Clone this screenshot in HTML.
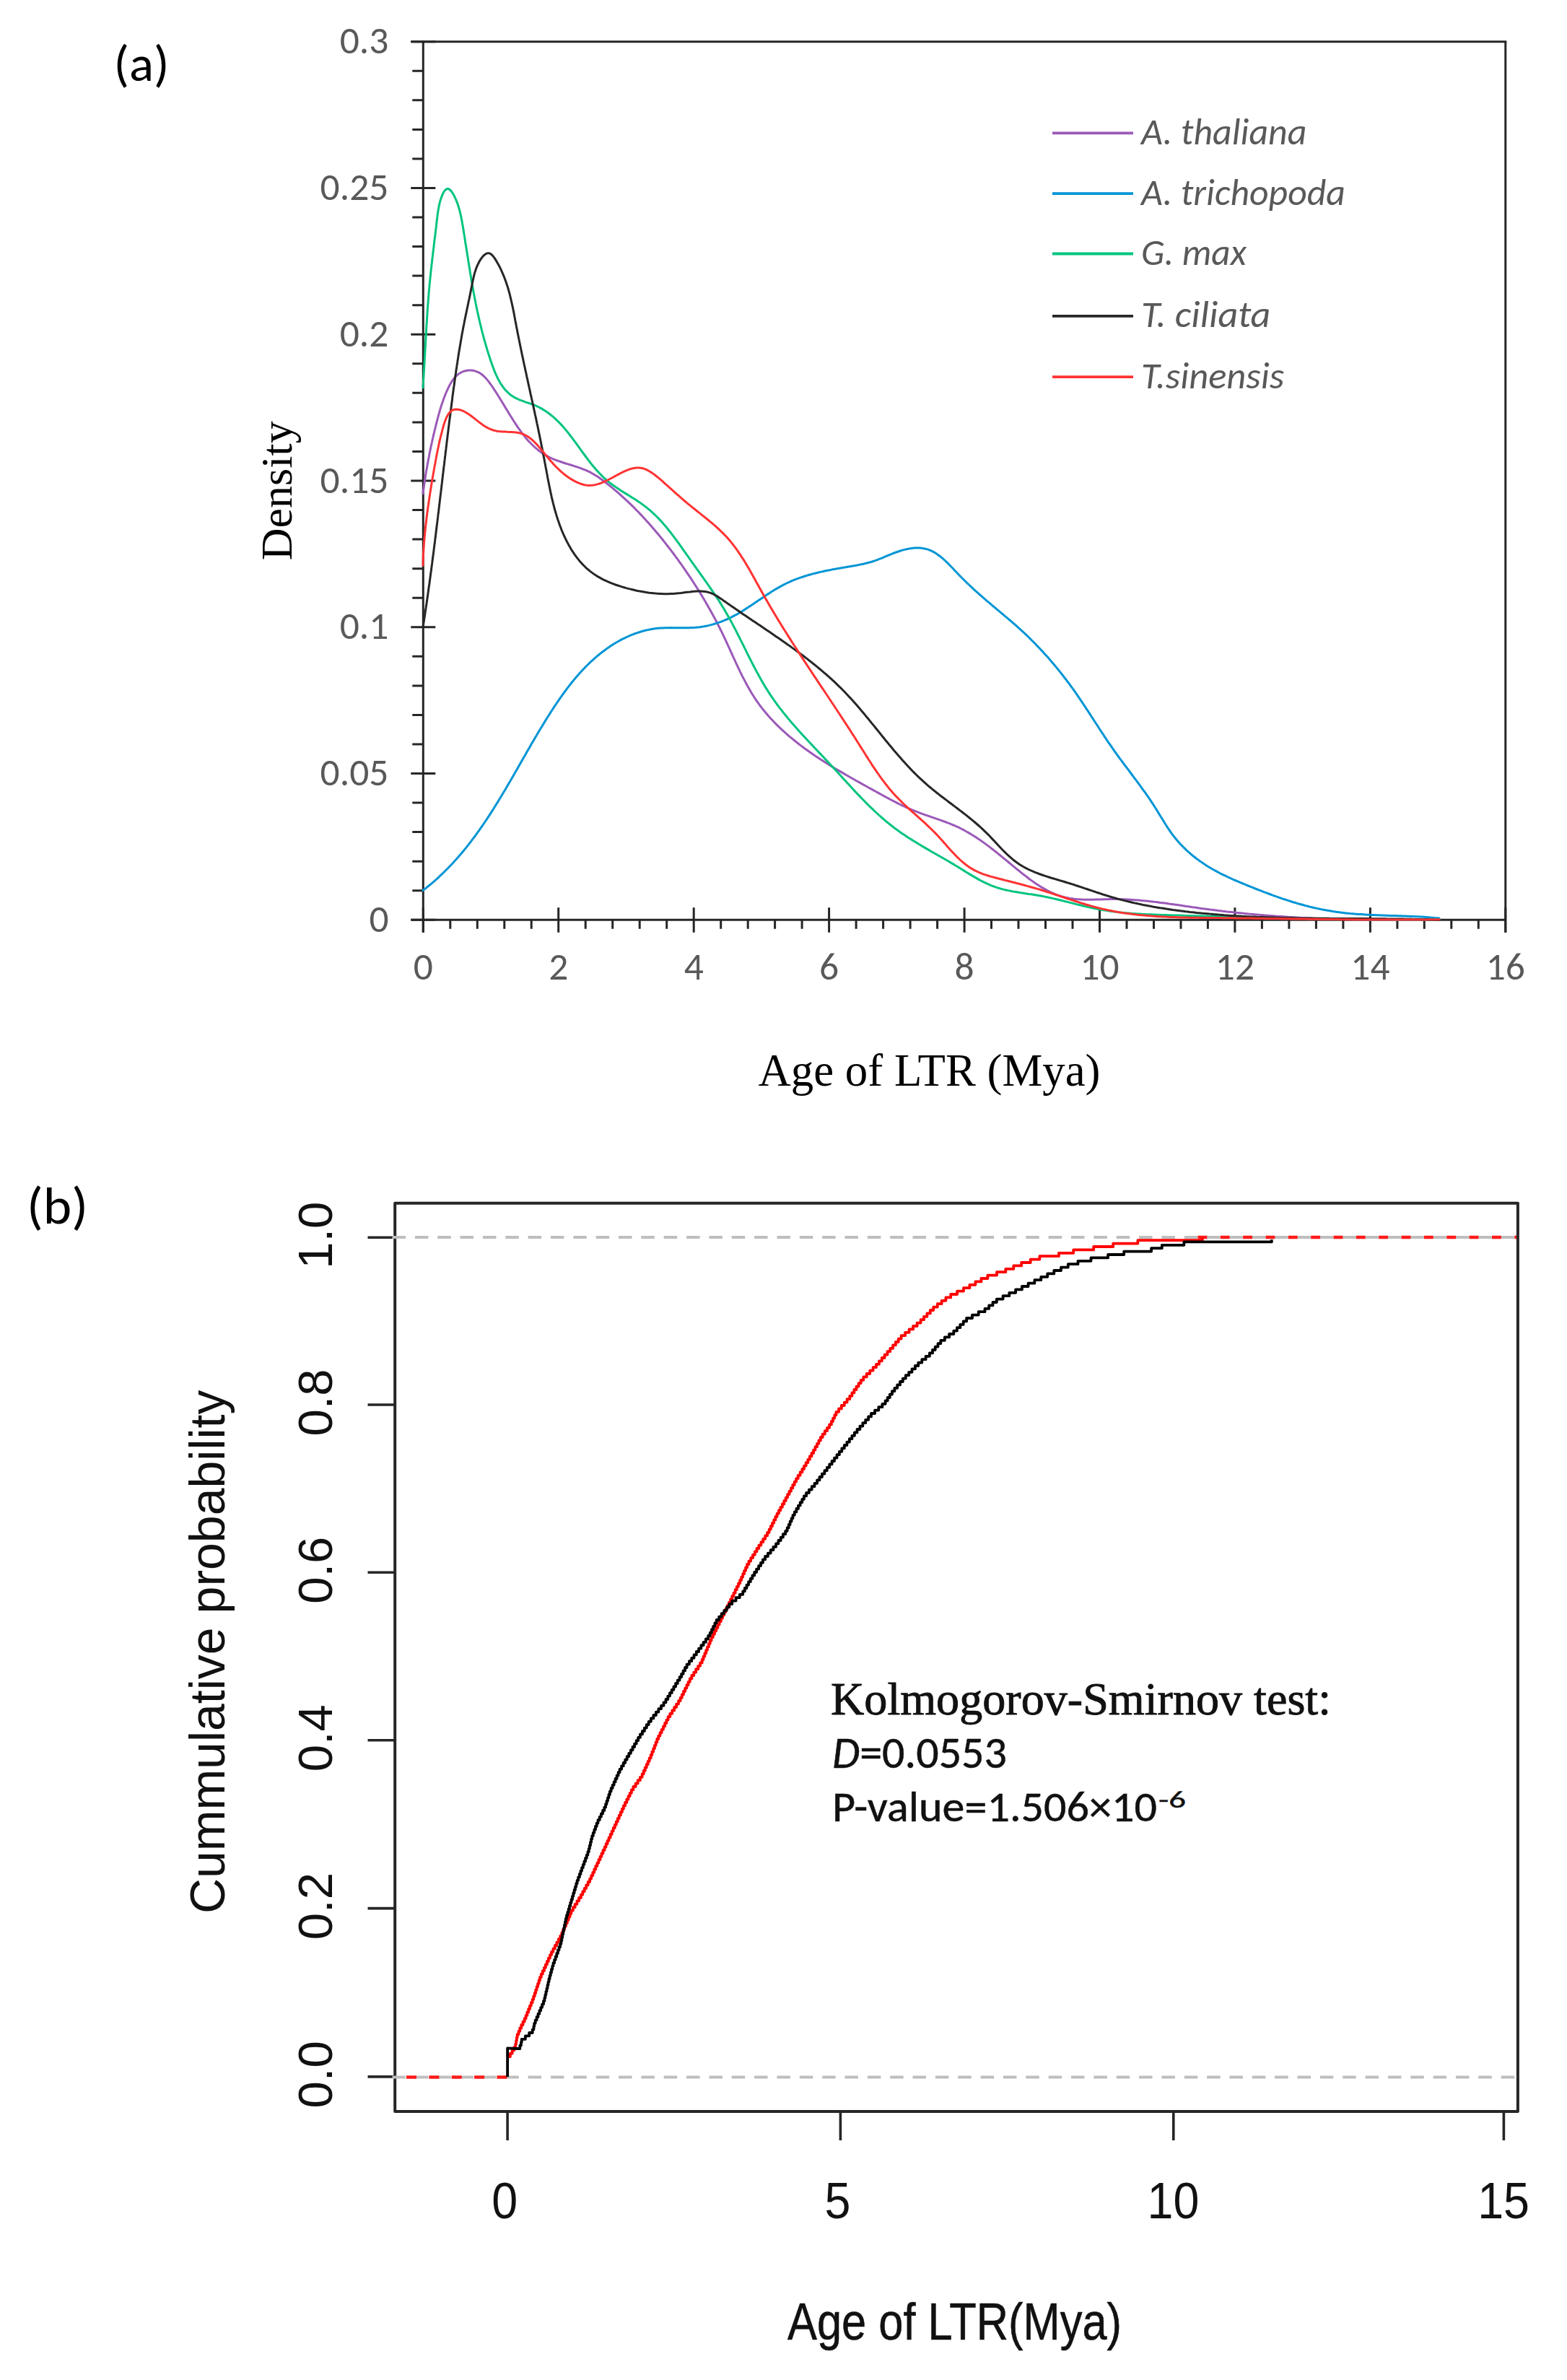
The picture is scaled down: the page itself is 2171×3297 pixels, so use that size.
<!DOCTYPE html>
<html><head><meta charset="utf-8"><title>LTR age</title><style>html,body{margin:0;padding:0;background:#fff;overflow:hidden}svg{display:block}</style></head><body>
<svg width="2171" height="3297" viewBox="0 0 2171 3297">
<rect width="2171" height="3297" fill="#fff"/>
<path d="M586.3 56.2V1291.8" stroke="#262626" stroke-width="3" fill="none"/>
<path d="M569.3 57.7H2087.3" stroke="#262626" stroke-width="3" fill="none"/>
<path d="M2085.8 57.7V1291.8" stroke="#262626" stroke-width="3" fill="none"/>
<path d="M569.3 1274.3H2085.8" stroke="#262626" stroke-width="3" fill="none"/>
<path d="M569.3 1274.3H603.3M571.3 1233.7H586.3M571.3 1193.2H586.3M571.3 1152.6H586.3M571.3 1112.1H586.3M569.3 1071.5H603.3M571.3 1031.0H586.3M571.3 990.4H586.3M571.3 949.9H586.3M571.3 909.3H586.3M569.3 868.8H603.3M571.3 828.2H586.3M571.3 787.7H586.3M571.3 747.1H586.3M571.3 706.6H586.3M569.3 666.0H603.3M571.3 625.4H586.3M571.3 584.9H586.3M571.3 544.3H586.3M571.3 503.8H586.3M569.3 463.2H603.3M571.3 422.7H586.3M571.3 382.1H586.3M571.3 341.6H586.3M571.3 301.0H586.3M569.3 260.5H603.3M571.3 219.9H586.3M571.3 179.4H586.3M571.3 138.8H586.3M571.3 98.3H586.3M569.3 57.7H603.3" stroke="#262626" stroke-width="3" fill="none"/>
<path d="M586.3 1257.3V1291.8M623.8 1274.3V1286.8M661.3 1274.3V1286.8M698.8 1274.3V1286.8M736.2 1274.3V1286.8M773.7 1257.3V1291.8M811.2 1274.3V1286.8M848.7 1274.3V1286.8M886.2 1274.3V1286.8M923.7 1274.3V1286.8M961.2 1257.3V1291.8M998.7 1274.3V1286.8M1036.2 1274.3V1286.8M1073.6 1274.3V1286.8M1111.1 1274.3V1286.8M1148.6 1257.3V1291.8M1186.1 1274.3V1286.8M1223.6 1274.3V1286.8M1261.1 1274.3V1286.8M1298.6 1274.3V1286.8M1336.1 1257.3V1291.8M1373.5 1274.3V1286.8M1411.0 1274.3V1286.8M1448.5 1274.3V1286.8M1486.0 1274.3V1286.8M1523.5 1257.3V1291.8M1561.0 1274.3V1286.8M1598.5 1274.3V1286.8M1636.0 1274.3V1286.8M1673.4 1274.3V1286.8M1710.9 1257.3V1291.8M1748.4 1274.3V1286.8M1785.9 1274.3V1286.8M1823.4 1274.3V1286.8M1860.9 1274.3V1286.8M1898.4 1257.3V1291.8M1935.9 1274.3V1286.8M1973.3 1274.3V1286.8M2010.8 1274.3V1286.8M2048.3 1274.3V1286.8M2085.8 1257.3V1291.8" stroke="#262626" stroke-width="3" fill="none"/>
<text textLength="27.1" lengthAdjust="spacingAndGlyphs" x="538.5" y="1290.9" font-family="Carlito, 'Liberation Sans', sans-serif" font-size="53.5" fill="#595959" text-anchor="end">0</text>
<text textLength="94.9" lengthAdjust="spacingAndGlyphs" x="538.5" y="1088.1" font-family="Carlito, 'Liberation Sans', sans-serif" font-size="53.5" fill="#595959" text-anchor="end">0.05</text>
<text textLength="67.8" lengthAdjust="spacingAndGlyphs" x="538.5" y="885.4" font-family="Carlito, 'Liberation Sans', sans-serif" font-size="53.5" fill="#595959" text-anchor="end">0.1</text>
<text textLength="94.9" lengthAdjust="spacingAndGlyphs" x="538.5" y="682.6" font-family="Carlito, 'Liberation Sans', sans-serif" font-size="53.5" fill="#595959" text-anchor="end">0.15</text>
<text textLength="67.8" lengthAdjust="spacingAndGlyphs" x="538.5" y="479.8" font-family="Carlito, 'Liberation Sans', sans-serif" font-size="53.5" fill="#595959" text-anchor="end">0.2</text>
<text textLength="94.9" lengthAdjust="spacingAndGlyphs" x="538.5" y="277.1" font-family="Carlito, 'Liberation Sans', sans-serif" font-size="53.5" fill="#595959" text-anchor="end">0.25</text>
<text textLength="67.8" lengthAdjust="spacingAndGlyphs" x="538.5" y="74.3" font-family="Carlito, 'Liberation Sans', sans-serif" font-size="53.5" fill="#595959" text-anchor="end">0.3</text>
<text textLength="27.1" lengthAdjust="spacingAndGlyphs" x="586.3" y="1357" font-family="Carlito, 'Liberation Sans', sans-serif" font-size="53.5" fill="#595959" text-anchor="middle">0</text>
<text textLength="27.1" lengthAdjust="spacingAndGlyphs" x="773.7" y="1357" font-family="Carlito, 'Liberation Sans', sans-serif" font-size="53.5" fill="#595959" text-anchor="middle">2</text>
<text textLength="27.1" lengthAdjust="spacingAndGlyphs" x="961.2" y="1357" font-family="Carlito, 'Liberation Sans', sans-serif" font-size="53.5" fill="#595959" text-anchor="middle">4</text>
<text textLength="27.1" lengthAdjust="spacingAndGlyphs" x="1148.6" y="1357" font-family="Carlito, 'Liberation Sans', sans-serif" font-size="53.5" fill="#595959" text-anchor="middle">6</text>
<text textLength="27.1" lengthAdjust="spacingAndGlyphs" x="1336.1" y="1357" font-family="Carlito, 'Liberation Sans', sans-serif" font-size="53.5" fill="#595959" text-anchor="middle">8</text>
<text textLength="54.2" lengthAdjust="spacingAndGlyphs" x="1523.5" y="1357" font-family="Carlito, 'Liberation Sans', sans-serif" font-size="53.5" fill="#595959" text-anchor="middle">10</text>
<text textLength="54.2" lengthAdjust="spacingAndGlyphs" x="1710.9" y="1357" font-family="Carlito, 'Liberation Sans', sans-serif" font-size="53.5" fill="#595959" text-anchor="middle">12</text>
<text textLength="54.2" lengthAdjust="spacingAndGlyphs" x="1898.4" y="1357" font-family="Carlito, 'Liberation Sans', sans-serif" font-size="53.5" fill="#595959" text-anchor="middle">14</text>
<text textLength="54.2" lengthAdjust="spacingAndGlyphs" x="2085.8" y="1357" font-family="Carlito, 'Liberation Sans', sans-serif" font-size="53.5" fill="#595959" text-anchor="middle">16</text>
<path d="M586.0 683.8 586.4 680.8 586.8 677.8 587.2 674.8 587.7 671.7 588.1 668.7 588.5 665.8 589.0 662.8 589.5 659.8 589.9 656.8 590.4 653.8 590.9 650.9 591.5 647.9 592.0 644.9 592.5 642.0 593.0 639.0 593.6 636.1 594.2 633.2 594.7 630.2 595.3 627.3 595.9 624.4 596.5 621.5 597.1 618.6 597.7 615.7 598.4 612.8 599.0 609.9 599.7 607.0 600.3 604.1 601.0 601.2 601.7 598.3 602.4 595.5 603.1 592.6 603.8 589.7 604.5 586.9 605.2 584.0 606.0 581.2 606.7 578.3 607.5 575.5 608.3 572.6 609.1 569.8 609.9 566.9 610.8 564.0 611.7 561.1 612.7 558.2 613.8 555.2 614.8 552.2 616.0 549.2 617.2 546.1 618.5 543.0 619.9 539.8 621.4 536.7 622.9 533.6 624.6 530.7 626.4 527.8 628.3 525.2 630.3 522.7 632.4 520.5 634.6 518.6 637.0 517.0 639.5 515.6 642.0 514.5 644.6 513.7 647.3 513.2 649.9 513.0 652.6 513.0 655.3 513.3 657.9 513.9 660.5 514.8 663.1 515.9 665.5 517.3 667.9 519.0 670.1 520.9 672.3 523.1 674.4 525.4 676.4 527.9 678.4 530.5 680.3 533.1 682.2 535.8 684.0 538.6 685.8 541.3 687.6 544.0 689.3 546.8 691.0 549.5 692.7 552.2 694.4 555.0 696.1 557.7 697.8 560.4 699.4 563.2 701.0 565.9 702.7 568.5 704.3 571.2 705.9 573.9 707.5 576.5 709.2 579.1 710.8 581.7 712.4 584.3 714.1 586.9 715.8 589.4 717.4 591.9 719.2 594.3 720.9 596.7 722.6 599.1 724.4 601.4 726.2 603.7 728.0 606.0 729.9 608.2 731.8 610.4 733.7 612.5 735.7 614.5 737.7 616.5 739.8 618.5 741.9 620.4 744.1 622.2 746.3 624.0 748.6 625.7 750.9 627.4 753.3 628.9 755.7 630.5 758.3 631.9 760.9 633.3 763.5 634.5 766.2 635.8 769.0 636.9 771.9 638.0 774.8 639.0 777.7 640.0 780.7 641.0 783.7 642.0 786.7 642.9 789.7 643.8 792.7 644.7 795.7 645.7 798.7 646.6 801.7 647.6 804.6 648.7 807.5 649.8 810.4 650.9 813.2 652.1 815.9 653.4 818.6 654.7 821.2 656.2 823.7 657.7 826.3 659.2 828.7 660.8 831.1 662.5 833.5 664.2 835.9 666.0 838.2 667.7 840.5 669.5 842.8 671.4 845.1 673.2 847.4 675.1 849.7 676.9 851.9 678.8 854.2 680.7 856.4 682.7 858.6 684.6 860.8 686.6 863.0 688.6 865.2 690.6 867.4 692.6 869.6 694.6 871.7 696.7 873.8 698.7 876.0 700.8 878.1 702.9 880.2 705.0 882.3 707.2 884.4 709.3 886.4 711.4 888.5 713.6 890.5 715.8 892.6 718.0 894.6 720.2 896.6 722.4 898.6 724.6 900.6 726.9 902.5 729.1 904.5 731.4 906.5 733.7 908.4 735.9 910.3 738.2 912.3 740.5 914.2 742.9 916.1 745.2 918.0 747.5 919.8 749.9 921.7 752.2 923.6 754.6 925.4 757.0 927.2 759.3 929.1 761.7 930.9 764.1 932.7 766.5 934.5 768.9 936.2 771.3 938.0 773.7 939.8 776.2 941.5 778.6 943.3 781.0 945.0 783.5 946.7 785.9 948.4 788.4 950.1 790.8 951.8 793.3 953.5 795.8 955.1 798.2 956.8 800.7 958.4 803.2 960.1 805.7 961.7 808.2 963.3 810.7 964.9 813.2 966.5 815.7 968.1 818.3 969.7 820.8 971.2 823.3 972.8 825.9 974.3 828.5 975.8 831.0 977.3 833.6 978.8 836.2 980.3 838.8 981.8 841.4 983.3 844.0 984.7 846.6 986.2 849.2 987.6 851.8 989.1 854.5 990.5 857.1 991.9 859.8 993.3 862.5 994.6 865.1 996.0 867.8 997.4 870.5 998.7 873.2 1000.1 875.9 1001.4 878.7 1002.7 881.4 1004.0 884.1 1005.3 886.9 1006.6 889.6 1007.8 892.4 1009.1 895.2 1010.4 897.9 1011.6 900.7 1012.9 903.5 1014.2 906.3 1015.4 909.1 1016.7 911.8 1018.0 914.6 1019.2 917.4 1020.5 920.1 1021.8 922.9 1023.1 925.6 1024.4 928.4 1025.7 931.1 1027.1 933.8 1028.4 936.6 1029.8 939.3 1031.2 941.9 1032.6 944.6 1034.0 947.3 1035.4 949.9 1036.9 952.5 1038.4 955.1 1039.9 957.7 1041.4 960.3 1043.0 962.8 1044.6 965.3 1046.2 967.8 1047.9 970.3 1049.6 972.7 1051.3 975.1 1053.0 977.5 1054.8 979.8 1056.6 982.2 1058.5 984.5 1060.4 986.8 1062.3 989.0 1064.2 991.3 1066.2 993.5 1068.1 995.7 1070.2 997.8 1072.2 1000.0 1074.3 1002.1 1076.3 1004.2 1078.5 1006.3 1080.6 1008.3 1082.8 1010.4 1084.9 1012.4 1087.2 1014.4 1089.4 1016.4 1091.6 1018.3 1093.9 1020.3 1096.2 1022.2 1098.5 1024.1 1100.8 1026.0 1103.2 1027.9 1105.5 1029.7 1107.9 1031.6 1110.3 1033.4 1112.7 1035.2 1115.1 1037.0 1117.6 1038.7 1120.0 1040.5 1122.5 1042.2 1125.0 1044.0 1127.5 1045.7 1130.0 1047.4 1132.5 1049.1 1135.1 1050.7 1137.6 1052.4 1140.1 1054.0 1142.7 1055.7 1145.3 1057.3 1147.9 1058.9 1150.4 1060.5 1153.0 1062.1 1155.6 1063.7 1158.2 1065.2 1160.8 1066.8 1163.5 1068.4 1166.1 1069.9 1168.7 1071.4 1171.3 1073.0 1174.0 1074.5 1176.6 1076.0 1179.2 1077.5 1181.9 1079.0 1184.5 1080.5 1187.1 1082.0 1189.8 1083.4 1192.4 1084.9 1195.0 1086.4 1197.7 1087.8 1200.3 1089.3 1202.9 1090.7 1205.5 1092.2 1208.2 1093.6 1210.8 1095.1 1213.4 1096.5 1216.0 1097.9 1218.6 1099.4 1221.2 1100.8 1223.7 1102.2 1226.3 1103.6 1228.9 1105.0 1231.5 1106.4 1234.1 1107.8 1236.7 1109.2 1239.4 1110.5 1242.0 1111.9 1244.6 1113.2 1247.3 1114.5 1249.9 1115.8 1252.6 1117.0 1255.3 1118.3 1258.0 1119.5 1260.8 1120.7 1263.5 1121.9 1266.3 1123.0 1269.1 1124.1 1271.9 1125.2 1274.8 1126.3 1277.6 1127.4 1280.5 1128.4 1283.4 1129.4 1286.3 1130.4 1289.2 1131.4 1292.1 1132.4 1295.0 1133.4 1297.9 1134.4 1300.8 1135.4 1303.7 1136.4 1306.6 1137.5 1309.5 1138.5 1312.3 1139.6 1315.2 1140.7 1318.0 1141.8 1320.8 1143.0 1323.5 1144.2 1326.3 1145.4 1329.0 1146.7 1331.6 1148.0 1334.3 1149.4 1336.9 1150.8 1339.4 1152.2 1342.0 1153.6 1344.5 1155.1 1347.0 1156.7 1349.5 1158.2 1352.0 1159.8 1354.4 1161.4 1356.9 1163.1 1359.3 1164.7 1361.7 1166.4 1364.1 1168.1 1366.4 1169.9 1368.8 1171.6 1371.2 1173.4 1373.5 1175.2 1375.8 1177.0 1378.2 1178.9 1380.5 1180.7 1382.8 1182.6 1385.2 1184.5 1387.5 1186.4 1389.8 1188.3 1392.1 1190.2 1394.5 1192.1 1396.8 1194.0 1399.1 1196.0 1401.5 1197.9 1403.8 1199.9 1406.2 1201.8 1408.6 1203.8 1411.0 1205.7 1413.4 1207.7 1415.8 1209.6 1418.2 1211.5 1420.7 1213.4 1423.2 1215.3 1425.6 1217.2 1428.1 1219.1 1430.6 1220.9 1433.2 1222.7 1435.7 1224.4 1438.3 1226.1 1440.9 1227.8 1443.5 1229.4 1446.1 1230.9 1448.7 1232.4 1451.4 1233.9 1454.0 1235.2 1456.7 1236.5 1459.5 1237.7 1462.2 1238.9 1465.0 1239.9 1467.7 1240.9 1470.5 1241.8 1473.4 1242.5 1476.2 1243.2 1479.1 1243.8 1481.9 1244.4 1484.8 1244.8 1487.8 1245.2 1490.7 1245.5 1493.6 1245.7 1496.6 1245.9 1499.6 1246.1 1502.5 1246.2 1505.5 1246.2 1508.5 1246.2 1511.6 1246.2 1514.6 1246.2 1517.6 1246.1 1520.6 1246.1 1523.7 1246.0 1526.7 1245.9 1529.7 1245.8 1532.8 1245.7 1535.8 1245.7 1538.8 1245.6 1541.9 1245.6 1544.9 1245.6 1547.9 1245.6 1550.9 1245.7 1554.0 1245.7 1557.0 1245.8 1560.0 1246.0 1563.0 1246.1 1566.0 1246.3 1569.0 1246.5 1572.0 1246.7 1575.0 1246.9 1578.0 1247.1 1581.0 1247.4 1584.0 1247.7 1587.0 1248.0 1589.9 1248.3 1592.9 1248.6 1595.9 1248.9 1598.9 1249.3 1601.9 1249.6 1604.8 1250.0 1607.8 1250.4 1610.8 1250.7 1613.8 1251.1 1616.7 1251.5 1619.7 1252.0 1622.7 1252.4 1625.6 1252.8 1628.6 1253.2 1631.6 1253.6 1634.5 1254.1 1637.5 1254.5 1640.5 1254.9 1643.4 1255.4 1646.4 1255.8 1649.4 1256.2 1652.3 1256.7 1655.3 1257.1 1658.3 1257.5 1661.3 1257.9 1664.2 1258.4 1667.2 1258.8 1670.2 1259.2 1673.1 1259.6 1676.1 1260.0 1679.1 1260.3 1682.1 1260.7 1685.0 1261.1 1688.0 1261.5 1691.0 1261.8 1694.0 1262.2 1697.0 1262.5 1699.9 1262.9 1702.9 1263.2 1705.9 1263.5 1708.9 1263.8 1711.9 1264.2 1714.8 1264.5 1717.8 1264.8 1720.8 1265.1 1723.8 1265.4 1726.8 1265.7 1729.8 1266.0 1732.8 1266.2 1735.8 1266.5 1738.7 1266.8 1741.7 1267.0 1744.7 1267.3 1747.7 1267.5 1750.7 1267.8 1753.7 1268.0 1756.7 1268.3 1759.7 1268.5 1762.7 1268.7 1765.7 1268.9 1768.7 1269.2 1771.7 1269.4 1774.7 1269.6 1777.7 1269.8 1780.7 1270.0 1783.7 1270.2 1786.7 1270.4 1789.7 1270.5 1792.7 1270.7 1795.7 1270.9 1798.7 1271.1 1801.7 1271.2 1804.7 1271.4 1807.7 1271.5 1810.7 1271.7 1813.7 1271.8 1816.7 1272.0 1819.7 1272.1 1822.7 1272.2 1825.7 1272.3 1828.7 1272.5 1831.7 1272.6 1834.7 1272.7 1837.7 1272.8 1840.7 1272.9 1843.7 1273.0 1846.7 1273.1 1849.7 1273.2 1852.7 1273.3 1855.7 1273.4 1858.7 1273.4 1861.7 1273.5 1864.8 1273.6 1867.8 1273.7 1870.8 1273.7 1873.8 1273.8 1876.8 1273.8 1879.8 1273.9 1882.8 1273.9 1885.8 1274.0 1888.8 1274.0 1891.8 1274.1 1894.8 1274.1 1897.8 1274.1 1900.8 1274.1 1903.8 1274.2 1906.9 1274.2 1909.9 1274.2 1912.9 1274.2 1915.9 1274.2 1918.9 1274.2 1921.9 1274.2 1924.9 1274.2 1927.9 1274.2 1930.9 1274.2 1933.9 1274.2 1936.9 1274.2 1939.9 1274.2 1942.9 1274.2 1945.9 1274.1 1948.9 1274.1 1951.9 1274.1 1955.0 1274.0 1958.0 1274.0 1961.0 1274.0 1964.0 1273.9 1967.0 1273.9 1970.0 1273.8 1973.0 1273.8 1976.0 1273.7 1979.0 1273.7 1982.0 1273.6 1985.0 1273.6 1988.0 1273.5 1991.0 1273.4 1994.0 1273.4" stroke="#9B59B8" stroke-width="3.0" fill="none" stroke-linejoin="round" stroke-linecap="round"/>
<path d="M586.0 1233.5 588.4 1231.6 590.9 1229.7 593.2 1227.7 595.6 1225.8 598.0 1223.8 600.3 1221.8 602.6 1219.8 604.9 1217.8 607.1 1215.8 609.3 1213.7 611.5 1211.6 613.7 1209.5 615.9 1207.4 618.0 1205.3 620.1 1203.2 622.2 1201.0 624.3 1198.8 626.4 1196.7 628.4 1194.5 630.4 1192.3 632.4 1190.0 634.4 1187.8 636.3 1185.5 638.3 1183.3 640.2 1181.0 642.1 1178.7 644.0 1176.4 645.9 1174.1 647.7 1171.8 649.6 1169.4 651.4 1167.1 653.2 1164.7 655.0 1162.3 656.8 1159.9 658.6 1157.6 660.3 1155.1 662.1 1152.7 663.8 1150.3 665.5 1147.9 667.2 1145.4 668.9 1143.0 670.6 1140.5 672.3 1138.0 673.9 1135.6 675.6 1133.1 677.2 1130.6 678.8 1128.1 680.4 1125.6 682.0 1123.1 683.7 1120.5 685.2 1118.0 686.8 1115.5 688.4 1112.9 690.0 1110.4 691.5 1107.8 693.1 1105.3 694.6 1102.7 696.2 1100.1 697.7 1097.5 699.3 1095.0 700.8 1092.4 702.3 1089.8 703.8 1087.2 705.3 1084.6 706.9 1082.0 708.4 1079.4 709.9 1076.8 711.4 1074.2 712.9 1071.6 714.4 1068.9 715.9 1066.3 717.4 1063.7 718.9 1061.1 720.4 1058.5 721.9 1055.8 723.4 1053.2 724.9 1050.6 726.4 1048.0 727.9 1045.4 729.4 1042.7 730.9 1040.1 732.4 1037.5 733.9 1034.9 735.4 1032.2 736.9 1029.6 738.5 1027.0 740.0 1024.4 741.5 1021.8 743.1 1019.2 744.6 1016.6 746.2 1013.9 747.7 1011.3 749.3 1008.7 750.9 1006.2 752.4 1003.6 754.0 1001.0 755.6 998.4 757.2 995.8 758.8 993.2 760.4 990.7 762.1 988.1 763.7 985.5 765.4 983.0 767.0 980.4 768.7 977.9 770.4 975.4 772.1 972.9 773.8 970.4 775.5 967.9 777.3 965.4 779.0 962.9 780.8 960.5 782.6 958.0 784.4 955.6 786.2 953.2 788.0 950.8 789.9 948.4 791.7 946.0 793.6 943.7 795.5 941.4 797.5 939.1 799.4 936.8 801.4 934.5 803.4 932.3 805.4 930.1 807.4 927.9 809.5 925.7 811.5 923.6 813.6 921.5 815.8 919.4 817.9 917.3 820.1 915.3 822.3 913.3 824.5 911.3 826.8 909.4 829.1 907.5 831.4 905.6 833.7 903.8 836.1 902.0 838.5 900.2 840.9 898.4 843.4 896.7 845.8 895.1 848.3 893.4 850.9 891.8 853.4 890.3 856.0 888.8 858.6 887.4 861.2 885.9 863.9 884.6 866.6 883.3 869.3 882.0 872.0 880.8 874.7 879.7 877.5 878.6 880.3 877.5 883.1 876.6 885.9 875.7 888.7 874.8 891.6 874.0 894.5 873.3 897.4 872.6 900.3 872.0 903.2 871.5 906.1 871.0 909.1 870.6 912.0 870.3 915.0 870.1 918.0 869.9 921.0 869.8 924.0 869.7 927.0 869.7 930.1 869.6 933.1 869.7 936.1 869.7 939.2 869.7 942.2 869.8 945.2 869.8 948.3 869.8 951.3 869.8 954.3 869.7 957.4 869.6 960.4 869.5 963.4 869.3 966.4 869.0 969.4 868.7 972.4 868.2 975.3 867.8 978.3 867.2 981.2 866.6 984.1 865.9 987.1 865.1 989.9 864.3 992.8 863.4 995.7 862.4 998.5 861.4 1001.3 860.3 1004.1 859.2 1006.9 858.0 1009.6 856.8 1012.3 855.5 1015.0 854.1 1017.7 852.7 1020.4 851.3 1023.0 849.8 1025.6 848.2 1028.2 846.7 1030.8 845.1 1033.3 843.4 1035.9 841.8 1038.5 840.1 1041.0 838.4 1043.5 836.7 1046.0 835.0 1048.6 833.3 1051.1 831.6 1053.6 829.9 1056.1 828.2 1058.7 826.5 1061.2 824.8 1063.7 823.1 1066.3 821.5 1068.8 819.8 1071.4 818.2 1073.9 816.6 1076.5 815.1 1079.1 813.6 1081.8 812.1 1084.4 810.7 1087.1 809.4 1089.7 808.0 1092.4 806.8 1095.2 805.5 1097.9 804.4 1100.7 803.2 1103.4 802.2 1106.2 801.1 1109.0 800.1 1111.9 799.2 1114.7 798.3 1117.6 797.4 1120.4 796.5 1123.3 795.7 1126.2 794.9 1129.1 794.2 1132.0 793.5 1134.9 792.8 1137.8 792.1 1140.7 791.5 1143.6 790.8 1146.6 790.2 1149.5 789.7 1152.4 789.1 1155.4 788.6 1158.3 788.0 1161.2 787.5 1164.2 787.0 1167.1 786.5 1170.0 786.0 1172.9 785.6 1175.9 785.1 1178.8 784.6 1181.7 784.1 1184.6 783.6 1187.5 783.0 1190.4 782.4 1193.3 781.8 1196.1 781.2 1199.0 780.5 1201.9 779.8 1204.8 779.0 1207.6 778.2 1210.5 777.3 1213.3 776.3 1216.1 775.3 1219.0 774.2 1221.8 773.1 1224.6 771.9 1227.4 770.7 1230.3 769.5 1233.1 768.3 1236.0 767.2 1238.8 766.0 1241.7 765.0 1244.6 764.0 1247.6 763.0 1250.5 762.1 1253.4 761.4 1256.3 760.7 1259.3 760.1 1262.2 759.7 1265.1 759.3 1268.0 759.1 1270.9 759.0 1273.7 759.1 1276.5 759.3 1279.3 759.7 1282.0 760.2 1284.7 760.9 1287.3 761.8 1289.9 762.9 1292.5 764.1 1295.0 765.5 1297.4 767.1 1299.8 768.8 1302.2 770.5 1304.6 772.4 1306.9 774.4 1309.2 776.5 1311.5 778.7 1313.8 780.9 1316.0 783.2 1318.3 785.5 1320.5 787.8 1322.7 790.2 1325.0 792.5 1327.2 794.9 1329.4 797.2 1331.6 799.5 1333.9 801.8 1336.1 804.0 1338.4 806.2 1340.6 808.4 1342.9 810.5 1345.1 812.6 1347.4 814.7 1349.6 816.8 1351.9 818.9 1354.2 820.9 1356.4 822.9 1358.7 824.9 1361.0 826.9 1363.3 828.9 1365.5 830.8 1367.8 832.8 1370.1 834.7 1372.4 836.7 1374.6 838.6 1376.9 840.5 1379.2 842.4 1381.5 844.3 1383.7 846.2 1386.0 848.1 1388.2 850.0 1390.5 851.9 1392.7 853.8 1395.0 855.7 1397.2 857.6 1399.5 859.5 1401.7 861.4 1403.9 863.3 1406.1 865.2 1408.3 867.2 1410.5 869.2 1412.7 871.1 1414.9 873.1 1417.1 875.1 1419.3 877.1 1421.4 879.2 1423.6 881.2 1425.7 883.3 1427.8 885.4 1429.9 887.5 1432.1 889.6 1434.2 891.7 1436.2 893.9 1438.3 896.1 1440.4 898.2 1442.4 900.4 1444.5 902.6 1446.5 904.9 1448.5 907.1 1450.6 909.3 1452.6 911.6 1454.6 913.9 1456.5 916.2 1458.5 918.5 1460.4 920.8 1462.4 923.1 1464.3 925.4 1466.2 927.8 1468.1 930.1 1470.0 932.5 1471.9 934.9 1473.7 937.3 1475.6 939.7 1477.4 942.1 1479.2 944.5 1481.1 946.9 1482.8 949.3 1484.6 951.8 1486.4 954.2 1488.1 956.7 1489.9 959.1 1491.6 961.6 1493.3 964.1 1495.0 966.6 1496.7 969.1 1498.4 971.6 1500.0 974.1 1501.7 976.6 1503.4 979.1 1505.0 981.6 1506.7 984.1 1508.3 986.6 1510.0 989.1 1511.6 991.7 1513.2 994.2 1514.9 996.7 1516.5 999.2 1518.1 1001.7 1519.8 1004.3 1521.4 1006.8 1523.0 1009.3 1524.7 1011.8 1526.3 1014.3 1528.0 1016.8 1529.6 1019.3 1531.3 1021.8 1532.9 1024.3 1534.6 1026.8 1536.3 1029.3 1538.0 1031.7 1539.7 1034.2 1541.4 1036.7 1543.1 1039.1 1544.8 1041.6 1546.6 1044.0 1548.3 1046.5 1550.1 1048.9 1551.9 1051.3 1553.7 1053.7 1555.5 1056.1 1557.2 1058.5 1559.0 1060.9 1560.9 1063.3 1562.7 1065.7 1564.5 1068.1 1566.3 1070.5 1568.1 1073.0 1569.9 1075.4 1571.7 1077.8 1573.5 1080.2 1575.3 1082.6 1577.1 1085.0 1578.9 1087.4 1580.7 1089.9 1582.4 1092.3 1584.2 1094.8 1586.0 1097.2 1587.7 1099.7 1589.4 1102.1 1591.2 1104.6 1592.9 1107.1 1594.6 1109.6 1596.2 1112.2 1597.9 1114.7 1599.5 1117.2 1601.1 1119.8 1602.8 1122.4 1604.3 1125.0 1605.9 1127.6 1607.5 1130.2 1609.1 1132.7 1610.7 1135.3 1612.3 1137.9 1613.9 1140.5 1615.5 1143.0 1617.1 1145.6 1618.8 1148.1 1620.5 1150.6 1622.2 1153.1 1623.9 1155.5 1625.7 1157.9 1627.6 1160.2 1629.5 1162.5 1631.4 1164.8 1633.3 1167.0 1635.3 1169.2 1637.4 1171.4 1639.5 1173.5 1641.6 1175.6 1643.7 1177.7 1645.9 1179.7 1648.2 1181.6 1650.4 1183.6 1652.7 1185.5 1655.0 1187.3 1657.4 1189.2 1659.8 1190.9 1662.2 1192.7 1664.6 1194.4 1667.1 1196.1 1669.6 1197.8 1672.1 1199.4 1674.7 1201.0 1677.2 1202.5 1679.8 1204.0 1682.5 1205.5 1685.1 1206.9 1687.8 1208.4 1690.4 1209.8 1693.1 1211.1 1695.8 1212.4 1698.6 1213.7 1701.3 1215.0 1704.1 1216.3 1706.8 1217.5 1709.6 1218.8 1712.4 1220.0 1715.2 1221.2 1718.0 1222.3 1720.8 1223.5 1723.6 1224.7 1726.4 1225.8 1729.2 1227.0 1732.0 1228.1 1734.8 1229.2 1737.6 1230.4 1740.4 1231.5 1743.2 1232.6 1746.1 1233.7 1748.9 1234.8 1751.7 1235.9 1754.5 1236.9 1757.4 1238.0 1760.2 1239.0 1763.0 1240.1 1765.8 1241.1 1768.7 1242.1 1771.5 1243.1 1774.4 1244.1 1777.2 1245.1 1780.1 1246.0 1782.9 1246.9 1785.8 1247.9 1788.6 1248.8 1791.5 1249.7 1794.4 1250.5 1797.2 1251.4 1800.1 1252.2 1803.0 1253.0 1805.9 1253.8 1808.7 1254.6 1811.6 1255.3 1814.5 1256.1 1817.4 1256.8 1820.3 1257.5 1823.3 1258.1 1826.2 1258.8 1829.1 1259.4 1832.0 1260.0 1835.0 1260.6 1837.9 1261.1 1840.8 1261.6 1843.8 1262.1 1846.7 1262.6 1849.7 1263.0 1852.7 1263.4 1855.6 1263.8 1858.6 1264.2 1861.6 1264.6 1864.6 1264.9 1867.6 1265.2 1870.6 1265.5 1873.6 1265.7 1876.6 1266.0 1879.6 1266.2 1882.6 1266.4 1885.6 1266.6 1888.6 1266.8 1891.7 1267.0 1894.7 1267.2 1897.7 1267.3 1900.7 1267.5 1903.8 1267.6 1906.8 1267.7 1909.8 1267.8 1912.8 1268.0 1915.9 1268.1 1918.9 1268.2 1921.9 1268.3 1924.9 1268.4 1928.0 1268.5 1931.0 1268.6 1934.0 1268.6 1937.1 1268.7 1940.1 1268.8 1943.1 1268.9 1946.1 1269.0 1949.1 1269.2 1952.1 1269.3 1955.2 1269.4 1958.2 1269.5 1961.2 1269.7 1964.2 1269.8 1967.2 1270.0 1970.2 1270.1 1973.2 1270.3 1976.1 1270.5 1979.1 1270.7 1982.1 1271.0 1985.1 1271.2 1988.0 1271.5 1991.0 1271.7 1993.9 1272.0" stroke="#0095D5" stroke-width="3.0" fill="none" stroke-linejoin="round" stroke-linecap="round"/>
<path d="M586.0 537.0 586.2 534.1 586.4 531.3 586.5 528.4 586.7 525.5 586.9 522.6 587.1 519.6 587.2 516.7 587.4 513.7 587.6 510.7 587.8 507.7 587.9 504.8 588.1 501.7 588.3 498.7 588.4 495.7 588.6 492.7 588.7 489.6 588.9 486.6 589.1 483.5 589.3 480.5 589.4 477.4 589.6 474.3 589.8 471.3 589.9 468.2 590.1 465.1 590.3 462.0 590.5 459.0 590.6 455.9 590.8 452.8 591.0 449.7 591.2 446.6 591.4 443.6 591.6 440.5 591.8 437.4 592.0 434.4 592.2 431.3 592.4 428.3 592.6 425.2 592.8 422.2 593.1 419.1 593.3 416.1 593.5 413.1 593.8 410.1 594.0 407.1 594.2 404.1 594.5 401.2 594.8 398.2 595.0 395.3 595.3 392.4 595.6 389.4 595.9 386.5 596.2 383.7 596.5 380.8 596.8 377.9 597.1 375.0 597.4 372.2 597.7 369.3 598.0 366.4 598.4 363.5 598.7 360.7 599.0 357.8 599.4 354.9 599.7 352.0 600.1 349.1 600.4 346.2 600.8 343.2 601.1 340.3 601.5 337.3 601.8 334.3 602.2 331.3 602.6 328.2 603.0 325.1 603.3 322.0 603.7 318.9 604.1 315.7 604.4 312.5 604.8 309.3 605.2 306.0 605.6 302.7 606.0 299.4 606.4 296.0 606.9 292.6 607.5 289.3 608.1 285.9 608.8 282.6 609.6 279.3 610.6 276.1 611.7 272.9 612.9 269.9 614.2 267.1 615.7 264.8 617.2 263.0 618.8 261.8 620.4 261.5 622.1 262.0 623.8 263.3 625.4 265.2 627.1 267.5 628.7 270.2 630.1 273.1 631.5 276.1 632.7 279.1 633.9 282.1 634.9 285.2 635.8 288.2 636.7 291.3 637.5 294.4 638.2 297.6 638.9 300.7 639.5 303.8 640.1 306.9 640.6 310.1 641.2 313.2 641.7 316.3 642.2 319.4 642.7 322.5 643.2 325.6 643.7 328.7 644.2 331.8 644.6 334.9 645.1 337.9 645.6 341.0 646.1 344.0 646.6 347.0 647.0 350.1 647.5 353.1 648.0 356.1 648.5 359.1 648.9 362.1 649.4 365.1 649.9 368.0 650.4 371.0 650.9 374.0 651.3 376.9 651.8 379.9 652.3 382.8 652.8 385.8 653.3 388.7 653.8 391.7 654.3 394.6 654.9 397.5 655.4 400.4 655.9 403.4 656.4 406.3 657.0 409.2 657.5 412.1 658.1 415.0 658.7 417.9 659.2 420.8 659.8 423.7 660.4 426.6 661.0 429.5 661.6 432.4 662.3 435.3 662.9 438.2 663.6 441.1 664.2 444.0 664.9 446.9 665.6 449.7 666.3 452.6 667.0 455.5 667.7 458.4 668.5 461.3 669.2 464.2 670.0 467.1 670.8 470.0 671.6 472.9 672.4 475.8 673.3 478.7 674.2 481.6 675.0 484.5 675.9 487.5 676.8 490.4 677.8 493.3 678.7 496.2 679.7 499.2 680.7 502.1 681.7 505.0 682.8 507.9 683.9 510.9 685.0 513.7 686.2 516.6 687.4 519.4 688.7 522.2 690.0 524.9 691.5 527.6 693.0 530.2 694.5 532.7 696.2 535.1 697.9 537.5 699.8 539.7 701.8 541.9 703.8 543.9 706.0 545.9 708.3 547.7 710.7 549.3 713.3 550.9 716.0 552.2 718.8 553.5 721.7 554.7 724.7 555.7 727.7 556.8 730.7 557.8 733.8 558.8 736.8 559.9 739.7 561.0 742.6 562.2 745.4 563.5 748.1 564.9 750.8 566.4 753.4 567.9 755.9 569.5 758.4 571.2 760.8 573.0 763.1 574.8 765.4 576.7 767.7 578.6 769.9 580.6 772.0 582.7 774.2 584.8 776.2 586.9 778.3 589.1 780.3 591.3 782.2 593.6 784.2 595.9 786.1 598.2 788.0 600.6 789.8 603.0 791.7 605.4 793.5 607.8 795.3 610.3 797.1 612.7 798.9 615.2 800.7 617.7 802.5 620.1 804.3 622.6 806.1 625.1 807.9 627.6 809.7 630.0 811.5 632.5 813.3 634.9 815.1 637.4 817.0 639.8 818.8 642.1 820.7 644.5 822.6 646.8 824.6 649.1 826.6 651.4 828.6 653.6 830.6 655.8 832.7 657.9 834.8 660.0 837.0 662.1 839.2 664.0 841.4 666.0 843.7 667.9 846.1 669.7 848.4 671.5 850.9 673.2 853.3 674.9 855.8 676.6 858.3 678.2 860.8 679.9 863.3 681.5 865.9 683.1 868.4 684.6 871.0 686.2 873.5 687.8 876.0 689.4 878.6 691.0 881.1 692.6 883.6 694.3 886.1 695.9 888.5 697.6 890.9 699.4 893.3 701.1 895.6 702.9 897.9 704.8 900.2 706.7 902.4 708.6 904.6 710.6 906.8 712.6 908.9 714.7 911.0 716.8 913.0 718.9 915.1 721.1 917.1 723.3 919.0 725.5 921.0 727.8 922.9 730.0 924.8 732.3 926.7 734.7 928.6 737.0 930.4 739.4 932.2 741.8 934.0 744.2 935.8 746.6 937.6 749.0 939.4 751.4 941.2 753.9 942.9 756.4 944.7 758.8 946.4 761.3 948.2 763.8 949.9 766.2 951.6 768.7 953.4 771.2 955.1 773.7 956.9 776.2 958.6 778.6 960.4 781.1 962.1 783.5 963.9 786.0 965.6 788.4 967.4 790.9 969.1 793.3 970.9 795.8 972.6 798.2 974.4 800.7 976.1 803.1 977.9 805.6 979.6 808.0 981.3 810.5 983.0 812.9 984.7 815.4 986.4 817.9 988.1 820.3 989.8 822.8 991.5 825.3 993.1 827.8 994.8 830.3 996.4 832.8 998.0 835.4 999.6 837.9 1001.1 840.4 1002.7 843.0 1004.2 845.6 1005.7 848.2 1007.2 850.8 1008.7 853.4 1010.2 856.0 1011.6 858.6 1013.1 861.3 1014.5 863.9 1015.9 866.6 1017.3 869.3 1018.7 871.9 1020.1 874.6 1021.4 877.3 1022.8 880.0 1024.2 882.7 1025.5 885.4 1026.9 888.1 1028.2 890.8 1029.6 893.5 1030.9 896.2 1032.3 898.9 1033.6 901.7 1034.9 904.4 1036.3 907.1 1037.6 909.8 1039.0 912.5 1040.4 915.2 1041.7 917.8 1043.1 920.5 1044.5 923.2 1045.9 925.9 1047.3 928.5 1048.7 931.2 1050.2 933.8 1051.6 936.5 1053.1 939.1 1054.5 941.7 1056.0 944.3 1057.5 946.9 1059.1 949.5 1060.6 952.0 1062.2 954.6 1063.8 957.1 1065.4 959.6 1067.0 962.1 1068.7 964.6 1070.4 967.1 1072.1 969.5 1073.8 972.0 1075.6 974.4 1077.3 976.8 1079.1 979.2 1080.9 981.6 1082.8 983.9 1084.6 986.3 1086.5 988.6 1088.4 991.0 1090.3 993.3 1092.2 995.6 1094.1 997.9 1096.1 1000.2 1098.0 1002.4 1100.0 1004.7 1102.0 1007.0 1104.0 1009.2 1106.0 1011.5 1108.0 1013.7 1110.0 1015.9 1112.0 1018.2 1114.1 1020.4 1116.1 1022.6 1118.2 1024.8 1120.2 1027.0 1122.3 1029.2 1124.4 1031.4 1126.4 1033.6 1128.5 1035.8 1130.6 1038.0 1132.7 1040.2 1134.7 1042.4 1136.8 1044.6 1138.9 1046.8 1141.0 1049.0 1143.0 1051.2 1145.1 1053.4 1147.2 1055.6 1149.2 1057.8 1151.3 1060.0 1153.3 1062.2 1155.4 1064.4 1157.4 1066.6 1159.5 1068.8 1161.5 1071.0 1163.5 1073.3 1165.6 1075.5 1167.6 1077.7 1169.6 1079.9 1171.6 1082.1 1173.7 1084.4 1175.7 1086.6 1177.7 1088.8 1179.8 1091.0 1181.8 1093.2 1183.8 1095.4 1185.9 1097.6 1187.9 1099.7 1190.0 1101.9 1192.1 1104.1 1194.1 1106.2 1196.2 1108.3 1198.3 1110.5 1200.4 1112.6 1202.5 1114.7 1204.6 1116.8 1206.8 1118.9 1208.9 1120.9 1211.1 1123.0 1213.2 1125.0 1215.4 1127.0 1217.6 1129.0 1219.8 1131.0 1222.1 1133.0 1224.3 1134.9 1226.6 1136.9 1228.8 1138.8 1231.2 1140.6 1233.5 1142.5 1235.8 1144.3 1238.2 1146.2 1240.6 1148.0 1243.0 1149.7 1245.4 1151.5 1247.8 1153.2 1250.3 1154.9 1252.8 1156.6 1255.3 1158.2 1257.8 1159.9 1260.3 1161.5 1262.9 1163.1 1265.4 1164.7 1268.0 1166.3 1270.6 1167.9 1273.2 1169.5 1275.8 1171.0 1278.4 1172.6 1281.0 1174.1 1283.6 1175.6 1286.2 1177.1 1288.9 1178.7 1291.5 1180.2 1294.1 1181.7 1296.8 1183.2 1299.4 1184.7 1302.1 1186.2 1304.7 1187.7 1307.3 1189.3 1310.0 1190.8 1312.6 1192.3 1315.2 1193.8 1317.8 1195.4 1320.4 1196.9 1323.0 1198.5 1325.6 1200.0 1328.2 1201.6 1330.8 1203.2 1333.3 1204.8 1335.9 1206.4 1338.4 1208.0 1341.0 1209.5 1343.6 1211.1 1346.1 1212.6 1348.7 1214.1 1351.3 1215.6 1353.9 1217.1 1356.5 1218.6 1359.1 1220.0 1361.7 1221.3 1364.4 1222.6 1367.0 1223.9 1369.7 1225.1 1372.4 1226.3 1375.2 1227.4 1377.9 1228.4 1380.7 1229.4 1383.6 1230.3 1386.4 1231.1 1389.3 1231.9 1392.2 1232.6 1395.1 1233.3 1398.1 1233.9 1401.0 1234.5 1404.0 1235.1 1407.0 1235.6 1410.0 1236.1 1413.0 1236.6 1416.0 1237.0 1419.1 1237.5 1422.1 1237.9 1425.1 1238.4 1428.2 1238.8 1431.2 1239.3 1434.2 1239.8 1437.2 1240.3 1440.2 1240.8 1443.2 1241.3 1446.2 1241.9 1449.2 1242.5 1452.2 1243.1 1455.1 1243.8 1458.1 1244.4 1461.0 1245.1 1464.0 1245.8 1466.9 1246.5 1469.8 1247.2 1472.7 1247.9 1475.7 1248.7 1478.6 1249.4 1481.5 1250.1 1484.4 1250.9 1487.3 1251.6 1490.2 1252.4 1493.1 1253.1 1496.0 1253.8 1498.9 1254.5 1501.8 1255.2 1504.7 1255.9 1507.6 1256.6 1510.6 1257.2 1513.5 1257.9 1516.4 1258.5 1519.3 1259.1 1522.2 1259.6 1525.2 1260.2 1528.1 1260.7 1531.1 1261.1 1534.0 1261.6 1537.0 1262.0 1539.9 1262.5 1542.9 1262.8 1545.9 1263.2 1548.8 1263.6 1551.8 1263.9 1554.8 1264.2 1557.8 1264.5 1560.8 1264.8 1563.8 1265.0 1566.8 1265.3 1569.8 1265.5 1572.8 1265.7 1575.8 1265.9 1578.8 1266.1 1581.8 1266.3 1584.8 1266.4 1587.8 1266.6 1590.8 1266.7 1593.8 1266.8 1596.8 1267.0 1599.9 1267.1 1602.9 1267.2 1605.9 1267.3 1608.9 1267.4 1611.9 1267.5 1614.9 1267.6 1618.0 1267.7 1621.0 1267.8 1624.0 1267.9 1627.0 1268.0 1630.0 1268.0 1633.1 1268.1 1636.1 1268.2 1639.1 1268.3 1642.1 1268.4 1645.1 1268.5 1648.1 1268.6 1651.2 1268.7 1654.2 1268.7 1657.2 1268.8 1660.2 1268.9 1663.2 1269.0 1666.2 1269.1 1669.2 1269.2 1672.2 1269.3 1675.3 1269.4 1678.3 1269.4 1681.3 1269.5 1684.3 1269.6 1687.3 1269.7 1690.3 1269.8 1693.3 1269.9 1696.3 1270.0 1699.3 1270.0 1702.4 1270.1 1705.4 1270.2 1708.4 1270.3 1711.4 1270.4 1714.4 1270.4 1717.4 1270.5 1720.4 1270.6 1723.4 1270.7 1726.4 1270.8 1729.4 1270.8 1732.4 1270.9 1735.4 1271.0 1738.4 1271.1 1741.4 1271.1 1744.4 1271.2 1747.5 1271.3 1750.5 1271.4 1753.5 1271.4 1756.5 1271.5 1759.5 1271.6 1762.5 1271.7 1765.5 1271.7 1768.5 1271.8 1771.5 1271.9 1774.5 1271.9 1777.5 1272.0 1780.5 1272.1 1783.5 1272.1 1786.5 1272.2 1789.5 1272.3 1792.5 1272.3 1795.5 1272.4 1798.5 1272.4 1801.5 1272.5 1804.5 1272.6 1807.5 1272.6 1810.5 1272.7 1813.5 1272.7 1816.5 1272.8 1819.5 1272.8 1822.6 1272.9 1825.6 1272.9 1828.6 1273.0 1831.6 1273.0 1834.6 1273.1 1837.6 1273.1 1840.6 1273.2 1843.6 1273.2 1846.6 1273.3 1849.6 1273.3 1852.6 1273.4 1855.6 1273.4 1858.6 1273.4 1861.6 1273.5 1864.6 1273.5 1867.6 1273.6 1870.6 1273.6 1873.6 1273.6 1876.6 1273.7 1879.6 1273.7 1882.6 1273.7 1885.6 1273.7 1888.7 1273.8 1891.7 1273.8 1894.7 1273.8 1897.7 1273.8 1900.7 1273.9 1903.7 1273.9 1906.7 1273.9 1909.7 1273.9 1912.7 1273.9 1915.7 1273.9 1918.7 1274.0 1921.7 1274.0 1924.7 1274.0 1927.8 1274.0 1930.8 1274.0 1933.8 1274.0 1936.8 1274.0 1939.8 1274.0 1942.8 1274.0 1945.8 1274.0 1948.8 1274.0 1951.8 1274.0 1954.9 1274.0 1957.9 1274.0 1960.9 1274.0 1963.9 1273.9 1966.9 1273.9 1969.9 1273.9 1972.9 1273.9 1976.0 1273.9 1979.0 1273.8 1982.0 1273.8 1985.0 1273.8 1988.0 1273.8 1991.0 1273.7 1994.1 1273.7" stroke="#00C47E" stroke-width="3.0" fill="none" stroke-linejoin="round" stroke-linecap="round"/>
<path d="M586.0 868.8 586.5 865.8 586.9 862.8 587.4 859.9 587.8 856.9 588.3 853.9 588.8 850.9 589.2 847.9 589.6 845.0 590.1 842.0 590.5 839.0 591.0 836.0 591.4 833.0 591.8 830.1 592.3 827.1 592.7 824.1 593.1 821.1 593.5 818.2 593.9 815.2 594.3 812.2 594.8 809.2 595.2 806.2 595.6 803.3 596.0 800.3 596.4 797.3 596.8 794.3 597.2 791.4 597.6 788.4 598.0 785.4 598.4 782.4 598.8 779.4 599.1 776.5 599.5 773.5 599.9 770.5 600.3 767.5 600.7 764.6 601.1 761.6 601.4 758.6 601.8 755.6 602.2 752.7 602.6 749.7 602.9 746.7 603.3 743.7 603.7 740.7 604.0 737.8 604.4 734.8 604.8 731.8 605.1 728.8 605.5 725.9 605.9 722.9 606.2 719.9 606.6 716.9 606.9 713.9 607.3 711.0 607.7 708.0 608.0 705.0 608.4 702.0 608.7 699.0 609.1 696.1 609.4 693.1 609.8 690.1 610.1 687.1 610.5 684.1 610.9 681.2 611.2 678.2 611.6 675.2 611.9 672.2 612.3 669.2 612.6 666.3 613.0 663.3 613.3 660.3 613.7 657.3 614.0 654.3 614.4 651.3 614.7 648.4 615.1 645.4 615.5 642.4 615.8 639.4 616.2 636.4 616.5 633.4 616.9 630.5 617.2 627.5 617.6 624.5 618.0 621.5 618.3 618.5 618.7 615.5 619.0 612.5 619.4 609.6 619.8 606.6 620.1 603.6 620.5 600.6 620.9 597.6 621.2 594.6 621.6 591.6 622.0 588.6 622.3 585.6 622.7 582.6 623.1 579.7 623.5 576.7 623.9 573.7 624.2 570.7 624.6 567.7 625.0 564.7 625.4 561.7 625.8 558.7 626.2 555.7 626.6 552.7 626.9 549.7 627.3 546.7 627.7 543.7 628.1 540.7 628.5 537.7 629.0 534.7 629.4 531.7 629.8 528.8 630.2 525.8 630.6 522.8 631.0 519.8 631.5 516.8 631.9 513.8 632.3 510.8 632.8 507.9 633.2 504.9 633.7 501.9 634.1 498.9 634.6 496.0 635.0 493.0 635.5 490.0 636.0 487.1 636.5 484.1 637.0 481.2 637.5 478.2 638.0 475.3 638.5 472.3 639.0 469.4 639.5 466.5 640.0 463.6 640.5 460.6 641.1 457.7 641.6 454.8 642.2 451.9 642.8 449.0 643.3 446.1 643.9 443.2 644.5 440.4 645.1 437.5 645.7 434.6 646.3 431.7 646.9 428.8 647.5 426.0 648.1 423.1 648.7 420.2 649.3 417.2 650.0 414.3 650.6 411.4 651.2 408.4 651.8 405.4 652.4 402.4 653.0 399.4 653.6 396.4 654.2 393.3 654.8 390.2 655.5 387.1 656.2 384.0 656.9 380.8 657.8 377.6 658.8 374.5 659.9 371.3 661.2 368.1 662.7 365.0 664.3 361.9 666.2 358.9 668.1 356.3 670.1 354.0 672.2 352.3 674.3 351.1 676.4 350.6 678.4 351.0 680.4 352.1 682.3 353.9 684.1 356.1 685.9 358.6 687.6 361.4 689.2 364.2 690.8 367.0 692.3 369.9 693.7 372.7 695.0 375.6 696.3 378.5 697.5 381.4 698.7 384.3 699.8 387.2 700.8 390.1 701.8 393.0 702.8 395.9 703.7 398.8 704.6 401.8 705.4 404.7 706.2 407.7 706.9 410.6 707.6 413.6 708.3 416.5 709.0 419.5 709.6 422.4 710.3 425.4 710.9 428.4 711.5 431.3 712.1 434.3 712.6 437.3 713.2 440.2 713.7 443.2 714.3 446.1 714.9 449.1 715.4 452.1 716.0 455.0 716.6 458.0 717.1 460.9 717.7 463.9 718.3 466.8 718.9 469.8 719.5 472.7 720.1 475.6 720.7 478.6 721.3 481.5 721.9 484.4 722.5 487.4 723.1 490.3 723.7 493.2 724.4 496.1 725.0 499.1 725.6 502.0 726.2 504.9 726.9 507.8 727.5 510.8 728.1 513.7 728.8 516.6 729.4 519.5 730.0 522.4 730.7 525.3 731.3 528.3 731.9 531.2 732.6 534.1 733.2 537.0 733.9 539.9 734.5 542.9 735.1 545.8 735.8 548.7 736.4 551.6 737.1 554.5 737.7 557.5 738.4 560.4 739.0 563.3 739.6 566.2 740.3 569.2 740.9 572.1 741.5 575.0 742.2 577.9 742.8 580.9 743.4 583.8 744.0 586.8 744.7 589.7 745.3 592.6 745.9 595.6 746.5 598.5 747.1 601.5 747.7 604.4 748.3 607.4 748.9 610.3 749.5 613.3 750.1 616.2 750.7 619.2 751.3 622.2 751.9 625.1 752.5 628.1 753.0 631.1 753.6 634.1 754.2 637.1 754.7 640.1 755.3 643.0 755.8 646.0 756.4 649.0 757.0 652.0 757.5 655.0 758.1 658.0 758.6 661.0 759.2 664.0 759.8 667.0 760.4 670.0 761.0 673.0 761.6 676.0 762.2 678.9 762.8 681.9 763.5 684.9 764.1 687.8 764.8 690.8 765.5 693.7 766.2 696.7 767.0 699.6 767.7 702.5 768.5 705.4 769.3 708.3 770.2 711.2 771.0 714.1 771.9 716.9 772.8 719.8 773.8 722.6 774.8 725.4 775.8 728.2 776.9 731.0 777.9 733.8 779.1 736.5 780.2 739.2 781.4 742.0 782.7 744.7 784.0 747.3 785.3 750.0 786.7 752.6 788.1 755.2 789.6 757.8 791.1 760.4 792.6 762.9 794.3 765.4 795.9 767.8 797.6 770.2 799.4 772.6 801.2 774.9 803.1 777.2 805.1 779.4 807.0 781.6 809.1 783.7 811.2 785.8 813.4 787.8 815.6 789.7 817.9 791.6 820.3 793.4 822.7 795.1 825.2 796.8 827.7 798.4 830.4 799.9 833.0 801.4 835.7 802.8 838.5 804.1 841.3 805.4 844.1 806.6 847.0 807.8 849.8 808.9 852.7 810.0 855.7 811.0 858.6 811.9 861.6 812.9 864.5 813.7 867.5 814.6 870.4 815.4 873.4 816.1 876.3 816.8 879.2 817.5 882.1 818.2 885.0 818.8 887.9 819.3 890.8 819.8 893.7 820.3 896.6 820.8 899.5 821.2 902.3 821.5 905.2 821.8 908.1 822.1 911.0 822.3 913.9 822.5 916.8 822.6 919.7 822.7 922.7 822.7 925.6 822.7 928.6 822.6 931.6 822.5 934.5 822.3 937.6 822.0 940.6 821.7 943.6 821.4 946.7 821.0 949.8 820.6 952.8 820.2 955.9 819.9 959.0 819.5 962.0 819.3 965.0 819.1 968.0 819.0 971.0 819.1 973.9 819.2 976.8 819.6 979.7 820.1 982.5 820.8 985.2 821.7 987.8 822.8 990.4 824.2 993.0 825.6 995.5 827.2 998.0 828.9 1000.5 830.6 1003.0 832.4 1005.5 834.1 1008.0 835.9 1010.5 837.6 1013.0 839.4 1015.5 841.1 1018.0 842.8 1020.5 844.6 1023.0 846.3 1025.5 848.0 1028.0 849.7 1030.5 851.4 1033.0 853.1 1035.5 854.8 1038.0 856.5 1040.6 858.2 1043.1 859.9 1045.6 861.6 1048.1 863.3 1050.6 865.0 1053.1 866.6 1055.6 868.3 1058.1 870.0 1060.6 871.7 1063.1 873.4 1065.6 875.1 1068.1 876.8 1070.6 878.5 1073.0 880.2 1075.5 881.9 1078.0 883.6 1080.5 885.3 1082.9 887.0 1085.4 888.7 1087.9 890.4 1090.3 892.2 1092.7 893.9 1095.2 895.6 1097.6 897.4 1100.0 899.1 1102.5 900.9 1104.9 902.7 1107.3 904.4 1109.7 906.2 1112.1 908.0 1114.4 909.8 1116.8 911.6 1119.2 913.4 1121.5 915.3 1123.9 917.1 1126.2 919.0 1128.5 920.8 1130.8 922.7 1133.1 924.6 1135.4 926.5 1137.7 928.4 1140.0 930.3 1142.3 932.3 1144.5 934.2 1146.7 936.2 1149.0 938.1 1151.2 940.1 1153.4 942.1 1155.6 944.2 1157.7 946.2 1159.9 948.3 1162.0 950.3 1164.2 952.4 1166.3 954.5 1168.4 956.7 1170.5 958.8 1172.5 961.0 1174.6 963.2 1176.6 965.4 1178.7 967.6 1180.7 969.8 1182.7 972.0 1184.7 974.3 1186.7 976.6 1188.6 978.8 1190.6 981.1 1192.6 983.4 1194.5 985.7 1196.5 988.0 1198.4 990.4 1200.3 992.7 1202.3 995.0 1204.2 997.4 1206.1 999.7 1208.0 1002.1 1209.9 1004.4 1211.9 1006.8 1213.8 1009.2 1215.7 1011.5 1217.6 1013.9 1219.5 1016.2 1221.4 1018.6 1223.3 1021.0 1225.2 1023.3 1227.1 1025.7 1229.1 1028.0 1231.0 1030.4 1232.9 1032.7 1234.9 1035.0 1236.8 1037.4 1238.7 1039.7 1240.7 1042.0 1242.7 1044.3 1244.6 1046.6 1246.6 1048.8 1248.6 1051.1 1250.6 1053.4 1252.6 1055.6 1254.6 1057.8 1256.7 1060.0 1258.7 1062.2 1260.8 1064.4 1262.8 1066.6 1264.9 1068.7 1267.0 1070.9 1269.1 1073.0 1271.3 1075.1 1273.4 1077.1 1275.6 1079.2 1277.8 1081.2 1280.0 1083.2 1282.2 1085.2 1284.4 1087.2 1286.7 1089.1 1289.0 1091.0 1291.3 1092.9 1293.6 1094.8 1295.9 1096.6 1298.2 1098.5 1300.6 1100.3 1302.9 1102.2 1305.3 1104.0 1307.7 1105.8 1310.1 1107.6 1312.5 1109.4 1314.8 1111.2 1317.2 1113.0 1319.6 1114.8 1322.0 1116.6 1324.4 1118.4 1326.8 1120.2 1329.2 1122.1 1331.6 1123.9 1334.0 1125.7 1336.4 1127.6 1338.8 1129.4 1341.1 1131.3 1343.5 1133.2 1345.8 1135.1 1348.2 1137.1 1350.5 1139.0 1352.8 1141.0 1355.1 1143.0 1357.4 1145.0 1359.7 1147.1 1361.9 1149.2 1364.1 1151.3 1366.3 1153.4 1368.5 1155.6 1370.7 1157.8 1372.8 1160.1 1375.0 1162.4 1377.1 1164.6 1379.2 1166.9 1381.4 1169.2 1383.5 1171.5 1385.6 1173.7 1387.7 1176.0 1389.9 1178.2 1392.1 1180.4 1394.2 1182.5 1396.5 1184.7 1398.7 1186.7 1401.0 1188.7 1403.3 1190.7 1405.6 1192.5 1408.0 1194.3 1410.4 1196.0 1412.9 1197.7 1415.4 1199.2 1417.9 1200.7 1420.5 1202.1 1423.1 1203.5 1425.8 1204.8 1428.5 1206.0 1431.2 1207.2 1433.9 1208.3 1436.7 1209.4 1439.5 1210.5 1442.3 1211.5 1445.1 1212.5 1448.0 1213.4 1450.9 1214.4 1453.7 1215.3 1456.6 1216.2 1459.5 1217.0 1462.4 1217.9 1465.3 1218.8 1468.2 1219.6 1471.1 1220.5 1474.0 1221.3 1476.9 1222.2 1479.8 1223.1 1482.7 1224.0 1485.6 1224.9 1488.5 1225.8 1491.3 1226.8 1494.2 1227.7 1497.0 1228.6 1499.9 1229.6 1502.7 1230.6 1505.6 1231.5 1508.4 1232.5 1511.3 1233.4 1514.1 1234.4 1517.0 1235.3 1519.8 1236.3 1522.7 1237.2 1525.5 1238.2 1528.3 1239.1 1531.2 1240.0 1534.1 1240.9 1536.9 1241.8 1539.8 1242.6 1542.7 1243.5 1545.5 1244.3 1548.4 1245.1 1551.3 1245.9 1554.2 1246.6 1557.1 1247.4 1560.0 1248.1 1562.9 1248.8 1565.8 1249.5 1568.7 1250.2 1571.6 1250.9 1574.6 1251.5 1577.5 1252.1 1580.4 1252.8 1583.3 1253.4 1586.3 1253.9 1589.2 1254.5 1592.2 1255.1 1595.1 1255.6 1598.1 1256.2 1601.0 1256.7 1604.0 1257.2 1606.9 1257.7 1609.9 1258.1 1612.9 1258.6 1615.8 1259.1 1618.8 1259.5 1621.8 1259.9 1624.8 1260.4 1627.7 1260.8 1630.7 1261.2 1633.7 1261.6 1636.7 1261.9 1639.6 1262.3 1642.6 1262.7 1645.6 1263.0 1648.6 1263.4 1651.6 1263.7 1654.6 1264.0 1657.5 1264.4 1660.5 1264.7 1663.5 1265.0 1666.5 1265.3 1669.5 1265.5 1672.5 1265.8 1675.5 1266.1 1678.5 1266.3 1681.5 1266.6 1684.5 1266.8 1687.4 1267.1 1690.4 1267.3 1693.4 1267.5 1696.4 1267.8 1699.4 1268.0 1702.4 1268.2 1705.4 1268.4 1708.4 1268.6 1711.4 1268.7 1714.4 1268.9 1717.4 1269.1 1720.4 1269.3 1723.4 1269.4 1726.4 1269.6 1729.4 1269.7 1732.4 1269.9 1735.4 1270.0 1738.4 1270.1 1741.4 1270.3 1744.4 1270.4 1747.4 1270.5 1750.4 1270.6 1753.5 1270.7 1756.5 1270.8 1759.5 1270.9 1762.5 1271.0 1765.5 1271.1 1768.5 1271.2 1771.5 1271.3 1774.5 1271.4 1777.5 1271.4 1780.5 1271.5 1783.5 1271.6 1786.5 1271.6 1789.5 1271.7 1792.6 1271.8 1795.6 1271.8 1798.6 1271.9 1801.6 1271.9 1804.6 1272.0 1807.6 1272.0 1810.6 1272.0 1813.6 1272.1 1816.6 1272.1 1819.6 1272.2 1822.7 1272.2 1825.7 1272.2 1828.7 1272.2 1831.7 1272.3 1834.7 1272.3 1837.7 1272.3 1840.7 1272.3 1843.7 1272.4 1846.7 1272.4 1849.7 1272.4 1852.8 1272.4 1855.8 1272.4 1858.8 1272.5 1861.8 1272.5 1864.8 1272.5 1867.8 1272.5 1870.8 1272.5 1873.8 1272.5 1876.8 1272.5 1879.8 1272.6 1882.9 1272.6 1885.9 1272.6 1888.9 1272.6 1891.9 1272.6 1894.9 1272.6 1897.9 1272.7 1900.9 1272.7 1903.9 1272.7 1906.9 1272.7 1909.9 1272.7 1912.9 1272.8 1915.9 1272.8 1918.9 1272.8 1921.9 1272.9 1925.0 1272.9 1928.0 1272.9 1931.0 1273.0 1934.0 1273.0 1937.0 1273.0 1940.0 1273.1 1943.0 1273.1 1946.0 1273.2 1949.0 1273.2 1952.0 1273.3 1955.0 1273.3 1958.0 1273.4 1961.0 1273.5 1964.0 1273.5 1967.0 1273.6 1970.0 1273.7 1973.0 1273.8 1976.0 1273.8 1979.0 1273.9 1982.0 1274.0 1984.9 1274.1 1987.9 1274.2 1990.9 1274.3 1993.9 1274.4" stroke="#262626" stroke-width="3.0" fill="none" stroke-linejoin="round" stroke-linecap="round"/>
<path d="M586.0 783.3 586.1 780.4 586.1 777.6 586.2 774.7 586.3 771.7 586.5 768.8 586.6 765.9 586.8 762.9 587.0 760.0 587.2 757.0 587.4 754.0 587.6 751.0 587.9 748.0 588.1 745.0 588.4 741.9 588.7 738.9 589.0 735.9 589.3 732.8 589.6 729.8 590.0 726.7 590.3 723.7 590.7 720.6 591.0 717.6 591.4 714.5 591.8 711.4 592.2 708.4 592.6 705.3 593.0 702.3 593.5 699.2 593.9 696.2 594.4 693.1 594.8 690.1 595.3 687.1 595.7 684.1 596.2 681.1 596.7 678.1 597.1 675.1 597.6 672.1 598.1 669.1 598.6 666.2 599.1 663.2 599.6 660.3 600.1 657.4 600.6 654.5 601.1 651.6 601.6 648.7 602.1 645.9 602.7 643.1 603.2 640.2 603.7 637.4 604.2 634.7 604.7 631.9 605.3 629.1 605.8 626.3 606.4 623.5 607.0 620.6 607.6 617.7 608.2 614.7 608.9 611.7 609.6 608.6 610.4 605.4 611.2 602.2 612.1 598.8 613.0 595.4 613.9 591.8 615.0 588.2 616.1 584.7 617.3 581.4 618.7 578.2 620.2 575.3 621.8 572.7 623.5 570.6 625.5 568.9 627.6 567.8 629.9 567.2 632.3 567.0 634.8 567.2 637.3 567.8 640.0 568.7 642.6 569.8 645.2 571.2 647.8 572.8 650.4 574.5 652.9 576.3 655.4 578.2 657.9 580.2 660.4 582.1 662.9 584.1 665.4 586.1 668.0 587.9 670.5 589.7 673.2 591.4 675.9 592.9 678.6 594.2 681.4 595.3 684.3 596.2 687.3 596.9 690.3 597.4 693.4 597.7 696.5 598.0 699.6 598.1 702.7 598.3 705.8 598.4 708.9 598.5 712.0 598.8 714.9 599.1 717.9 599.5 720.7 600.1 723.5 601.0 726.1 602.0 728.7 603.3 731.2 604.7 733.6 606.4 735.9 608.2 738.1 610.1 740.3 612.2 742.5 614.4 744.5 616.6 746.6 618.9 748.6 621.3 750.6 623.7 752.6 626.1 754.5 628.5 756.5 630.9 758.5 633.2 760.4 635.6 762.4 637.9 764.4 640.1 766.4 642.4 768.4 644.6 770.5 646.7 772.6 648.8 774.7 650.9 776.9 652.9 779.1 654.8 781.4 656.7 783.7 658.5 786.1 660.3 788.5 662.0 791.1 663.6 793.7 665.1 796.3 666.6 799.1 668.0 801.9 669.2 804.8 670.3 807.7 671.2 810.6 671.9 813.6 672.3 816.5 672.5 819.5 672.3 822.4 672.0 825.4 671.4 828.3 670.6 831.3 669.7 834.2 668.6 837.1 667.3 840.0 666.0 843.0 664.5 845.9 663.0 848.8 661.5 851.7 659.9 854.5 658.3 857.4 656.8 860.2 655.3 863.1 653.9 865.9 652.6 868.7 651.4 871.5 650.3 874.3 649.4 877.0 648.7 879.8 648.2 882.5 648.0 885.2 648.0 887.8 648.2 890.5 648.8 893.1 649.6 895.7 650.7 898.3 652.0 900.8 653.5 903.4 655.1 905.9 656.9 908.3 658.8 910.7 660.7 913.1 662.7 915.5 664.7 917.8 666.7 920.1 668.8 922.4 670.8 924.7 672.8 926.9 674.8 929.2 676.8 931.4 678.8 933.6 680.8 935.8 682.8 938.0 684.8 940.2 686.7 942.4 688.7 944.6 690.6 946.9 692.6 949.1 694.5 951.4 696.4 953.7 698.3 956.0 700.2 958.3 702.1 960.7 704.0 963.0 705.8 965.4 707.7 967.7 709.6 970.1 711.4 972.4 713.3 974.8 715.2 977.1 717.1 979.5 719.0 981.8 720.9 984.1 722.8 986.4 724.7 988.7 726.7 991.0 728.6 993.2 730.6 995.4 732.6 997.6 734.7 999.7 736.8 1001.9 738.9 1003.9 741.0 1006.0 743.1 1008.0 745.3 1009.9 747.6 1011.9 749.8 1013.7 752.1 1015.6 754.5 1017.4 756.8 1019.2 759.2 1020.9 761.7 1022.7 764.1 1024.3 766.6 1026.0 769.0 1027.6 771.6 1029.3 774.1 1030.9 776.6 1032.4 779.2 1034.0 781.8 1035.5 784.4 1037.1 787.0 1038.6 789.6 1040.1 792.2 1041.6 794.9 1043.0 797.5 1044.5 800.2 1046.0 802.8 1047.4 805.5 1048.9 808.2 1050.4 810.8 1051.8 813.5 1053.3 816.1 1054.8 818.8 1056.3 821.4 1057.8 824.1 1059.2 826.7 1060.7 829.3 1062.3 831.9 1063.8 834.6 1065.3 837.2 1066.8 839.8 1068.3 842.4 1069.9 845.0 1071.4 847.6 1073.0 850.2 1074.5 852.7 1076.1 855.3 1077.6 857.9 1079.2 860.5 1080.8 863.0 1082.3 865.6 1083.9 868.1 1085.5 870.7 1087.1 873.2 1088.7 875.8 1090.3 878.3 1091.9 880.9 1093.5 883.4 1095.1 885.9 1096.7 888.5 1098.3 891.0 1099.9 893.5 1101.6 896.0 1103.2 898.5 1104.8 901.1 1106.5 903.6 1108.1 906.1 1109.7 908.6 1111.4 911.1 1113.0 913.6 1114.6 916.1 1116.3 918.6 1117.9 921.1 1119.6 923.6 1121.2 926.1 1122.9 928.6 1124.5 931.1 1126.2 933.6 1127.8 936.1 1129.5 938.6 1131.2 941.1 1132.8 943.6 1134.5 946.1 1136.1 948.6 1137.8 951.1 1139.5 953.6 1141.1 956.0 1142.8 958.5 1144.4 961.0 1146.1 963.5 1147.8 966.0 1149.4 968.5 1151.1 971.0 1152.7 973.5 1154.4 976.0 1156.1 978.5 1157.7 981.0 1159.4 983.5 1161.0 986.0 1162.7 988.5 1164.3 991.0 1166.0 993.6 1167.6 996.1 1169.3 998.6 1170.9 1001.1 1172.6 1003.6 1174.2 1006.1 1175.8 1008.7 1177.5 1011.2 1179.1 1013.7 1180.7 1016.3 1182.4 1018.8 1184.0 1021.3 1185.6 1023.9 1187.2 1026.4 1188.8 1029.0 1190.4 1031.5 1192.0 1034.1 1193.6 1036.6 1195.3 1039.2 1196.9 1041.8 1198.5 1044.3 1200.1 1046.9 1201.7 1049.4 1203.3 1052.0 1205.0 1054.5 1206.6 1057.0 1208.2 1059.6 1209.9 1062.1 1211.6 1064.6 1213.3 1067.1 1215.0 1069.6 1216.7 1072.0 1218.4 1074.5 1220.1 1076.9 1221.9 1079.3 1223.7 1081.7 1225.5 1084.1 1227.3 1086.5 1229.2 1088.8 1231.0 1091.2 1232.9 1093.4 1234.9 1095.7 1236.8 1098.0 1238.8 1100.2 1240.8 1102.4 1242.9 1104.5 1245.0 1106.7 1247.1 1108.8 1249.2 1110.9 1251.3 1113.0 1253.5 1115.0 1255.7 1117.1 1257.9 1119.1 1260.1 1121.1 1262.3 1123.1 1264.6 1125.1 1266.8 1127.1 1269.1 1129.1 1271.3 1131.1 1273.6 1133.1 1275.8 1135.1 1278.0 1137.2 1280.3 1139.2 1282.5 1141.2 1284.7 1143.3 1286.9 1145.4 1289.1 1147.5 1291.3 1149.6 1293.4 1151.7 1295.6 1153.9 1297.7 1156.1 1299.7 1158.3 1301.8 1160.5 1303.8 1162.8 1305.9 1165.1 1307.9 1167.4 1309.9 1169.6 1311.9 1171.9 1313.9 1174.2 1316.0 1176.5 1318.0 1178.7 1320.1 1180.9 1322.1 1183.1 1324.2 1185.3 1326.3 1187.4 1328.5 1189.5 1330.6 1191.5 1332.8 1193.5 1335.1 1195.4 1337.4 1197.2 1339.7 1199.0 1342.1 1200.7 1344.6 1202.4 1347.1 1203.9 1349.7 1205.4 1352.3 1206.7 1355.1 1208.0 1357.8 1209.2 1360.7 1210.3 1363.5 1211.3 1366.4 1212.3 1369.4 1213.2 1372.3 1214.1 1375.3 1214.9 1378.3 1215.7 1381.3 1216.5 1384.2 1217.3 1387.2 1218.0 1390.1 1218.8 1393.1 1219.6 1396.0 1220.3 1398.9 1221.0 1401.8 1221.8 1404.8 1222.5 1407.7 1223.3 1410.5 1224.0 1413.4 1224.8 1416.3 1225.5 1419.2 1226.3 1422.1 1227.1 1424.9 1227.9 1427.8 1228.7 1430.7 1229.5 1433.5 1230.3 1436.4 1231.1 1439.3 1231.9 1442.1 1232.8 1445.0 1233.7 1447.8 1234.6 1450.7 1235.5 1453.6 1236.4 1456.4 1237.3 1459.3 1238.3 1462.1 1239.2 1465.0 1240.2 1467.9 1241.1 1470.7 1242.1 1473.6 1243.0 1476.5 1244.0 1479.3 1245.0 1482.2 1245.9 1485.1 1246.9 1487.9 1247.8 1490.8 1248.7 1493.7 1249.6 1496.6 1250.6 1499.5 1251.5 1502.4 1252.3 1505.2 1253.2 1508.1 1254.0 1511.0 1254.9 1513.9 1255.7 1516.9 1256.5 1519.8 1257.2 1522.7 1258.0 1525.6 1258.7 1528.5 1259.4 1531.4 1260.0 1534.4 1260.6 1537.3 1261.3 1540.2 1261.8 1543.2 1262.4 1546.1 1262.9 1549.1 1263.5 1552.0 1264.0 1555.0 1264.4 1558.0 1264.9 1560.9 1265.3 1563.9 1265.7 1566.9 1266.1 1569.8 1266.5 1572.8 1266.8 1575.8 1267.2 1578.8 1267.5 1581.7 1267.8 1584.7 1268.1 1587.7 1268.3 1590.7 1268.6 1593.7 1268.8 1596.7 1269.1 1599.7 1269.3 1602.7 1269.5 1605.7 1269.7 1608.7 1269.8 1611.7 1270.0 1614.7 1270.1 1617.7 1270.3 1620.7 1270.4 1623.7 1270.5 1626.7 1270.6 1629.8 1270.7 1632.8 1270.8 1635.8 1270.9 1638.8 1271.0 1641.8 1271.0 1644.8 1271.1 1647.9 1271.2 1650.9 1271.2 1653.9 1271.3 1656.9 1271.3 1659.9 1271.3 1663.0 1271.4 1666.0 1271.4 1669.0 1271.4 1672.0 1271.5 1675.0 1271.5 1678.1 1271.5 1681.1 1271.6 1684.1 1271.6 1687.1 1271.6 1690.1 1271.6 1693.1 1271.7 1696.2 1271.7 1699.2 1271.7 1702.2 1271.8 1705.2 1271.8 1708.2 1271.8 1711.2 1271.9 1714.2 1271.9 1717.3 1271.9 1720.3 1272.0 1723.3 1272.0 1726.3 1272.0 1729.3 1272.1 1732.3 1272.1 1735.3 1272.1 1738.3 1272.2 1741.3 1272.2 1744.4 1272.3 1747.4 1272.3 1750.4 1272.3 1753.4 1272.4 1756.4 1272.4 1759.4 1272.5 1762.4 1272.5 1765.4 1272.5 1768.4 1272.6 1771.4 1272.6 1774.4 1272.7 1777.4 1272.7 1780.4 1272.7 1783.4 1272.8 1786.5 1272.8 1789.5 1272.9 1792.5 1272.9 1795.5 1273.0 1798.5 1273.0 1801.5 1273.0 1804.5 1273.1 1807.5 1273.1 1810.5 1273.1 1813.5 1273.2 1816.5 1273.2 1819.5 1273.3 1822.5 1273.3 1825.5 1273.3 1828.5 1273.4 1831.5 1273.4 1834.5 1273.4 1837.5 1273.5 1840.5 1273.5 1843.5 1273.5 1846.5 1273.6 1849.6 1273.6 1852.6 1273.6 1855.6 1273.7 1858.6 1273.7 1861.6 1273.7 1864.6 1273.8 1867.6 1273.8 1870.6 1273.8 1873.6 1273.8 1876.6 1273.9 1879.6 1273.9 1882.6 1273.9 1885.6 1273.9 1888.6 1273.9 1891.6 1274.0 1894.6 1274.0 1897.6 1274.0 1900.6 1274.0 1903.7 1274.0 1906.7 1274.0 1909.7 1274.0 1912.7 1274.0 1915.7 1274.1 1918.7 1274.1 1921.7 1274.1 1924.7 1274.1 1927.7 1274.1 1930.7 1274.1 1933.7 1274.1 1936.8 1274.1 1939.8 1274.1 1942.8 1274.1 1945.8 1274.0 1948.8 1274.0 1951.8 1274.0 1954.8 1274.0 1957.8 1274.0 1960.9 1274.0 1963.9 1274.0 1966.9 1273.9 1969.9 1273.9 1972.9 1273.9 1975.9 1273.9 1979.0 1273.8 1982.0 1273.8 1985.0 1273.8 1988.0 1273.7 1991.0 1273.7 1994.1 1273.7" stroke="#FF3333" stroke-width="3.0" fill="none" stroke-linejoin="round" stroke-linecap="round"/>
<path d="M1458 184.4H1570" stroke="#9B59B8" stroke-width="3.8"/>
<text x="1581" y="199.9" textLength="229.4" lengthAdjust="spacingAndGlyphs" font-family="Carlito, 'Liberation Sans', sans-serif" font-style="italic" font-size="51" fill="#595959">A. thaliana</text>
<path d="M1458 268.2H1570" stroke="#0095D5" stroke-width="3.8"/>
<text x="1581" y="283.7" textLength="282.9" lengthAdjust="spacingAndGlyphs" font-family="Carlito, 'Liberation Sans', sans-serif" font-style="italic" font-size="51" fill="#595959">A. trichopoda</text>
<path d="M1458 351.5H1570" stroke="#00C47E" stroke-width="3.8"/>
<text x="1581" y="367.0" textLength="145.9" lengthAdjust="spacingAndGlyphs" font-family="Carlito, 'Liberation Sans', sans-serif" font-style="italic" font-size="51" fill="#595959">G. max</text>
<path d="M1458 437.8H1570" stroke="#262626" stroke-width="3.8"/>
<text x="1581" y="453.3" textLength="179.4" lengthAdjust="spacingAndGlyphs" font-family="Carlito, 'Liberation Sans', sans-serif" font-style="italic" font-size="51" fill="#595959">T. ciliata</text>
<path d="M1458 522.2H1570" stroke="#FF3333" stroke-width="3.8"/>
<text x="1581" y="537.7" textLength="198.3" lengthAdjust="spacingAndGlyphs" font-family="Carlito, 'Liberation Sans', sans-serif" font-style="italic" font-size="51" fill="#595959">T.sinensis</text>
<text x="157.5" y="112" font-family="Carlito, 'Liberation Sans', sans-serif" font-size="70" textLength="77" lengthAdjust="spacingAndGlyphs" fill="#000">(a)</text>
<text textLength="192.9" lengthAdjust="spacingAndGlyphs" transform="translate(403.5 679.8) rotate(-90)" x="0" y="0" text-anchor="middle" font-family="'Liberation Serif', serif" font-size="62" fill="#000">Density</text>
<text x="1287.5" y="1504" text-anchor="middle" font-family="'Liberation Serif', serif" font-size="62.5" textLength="474" lengthAdjust="spacingAndGlyphs" fill="#000">Age of LTR (Mya)</text>
<path d="M547.2 1666.8H2102.9V2925.0H547.2Z" stroke="#262626" stroke-width="4" fill="none" stroke-linejoin="round"/>
<path d="M509.5 1714.2H547.2M509.5 1946H547.2M509.5 2178.3H547.2M509.5 2410.8H547.2M509.5 2643.6H547.2M509.5 2876.9H547.2M703.1 2925.0V2965M1164.4 2925.0V2965M1625.8 2925.0V2965M2083.4 2925.0V2965" stroke="#262626" stroke-width="3.6" fill="none"/>
<path d="M543.5 1714H2100.9" stroke="#BEBEBE" stroke-width="4" stroke-dasharray="18.5 12.85" fill="none"/>
<path d="M543.5 2877.4H2100.9" stroke="#BEBEBE" stroke-width="4" stroke-dasharray="18.5 12.85" fill="none"/>
<path d="M563 2877.4H703" stroke="#FF1A1A" stroke-width="4.5" stroke-dasharray="14 17.35" fill="none"/>
<path d="M1659.45 1714H2101" stroke="#FF1A1A" stroke-width="4.5" stroke-dasharray="12.85 18.5" fill="none"/>
<path d="M704.2 2849.0 H706.9 V2844.6 H709.7 V2840.2 H712.4 V2835.8 H714.2 V2831.4 H715.1 V2827.0 H715.9 V2822.6 H716.7 V2818.2 H718.5 V2813.8 H720.3 V2809.4 H722.3 V2805.0 H724.5 V2800.6 H726.7 V2796.2 H728.6 V2791.8 H730.4 V2787.4 H732.2 V2783.0 H734.0 V2778.6 H735.8 V2774.2 H737.6 V2769.8 H739.2 V2765.4 H740.7 V2761.0 H742.2 V2756.6 H743.6 V2752.2 H745.1 V2747.8 H746.6 V2743.4 H748.0 V2739.0 H749.8 V2734.6 H751.8 V2730.2 H753.9 V2725.8 H755.9 V2721.4 H757.9 V2717.0 H759.9 V2712.6 H762.0 V2708.2 H764.0 V2703.8 H766.4 V2699.4 H768.9 V2695.0 H771.3 V2690.6 H773.8 V2686.2 H776.2 V2681.8 H778.3 V2677.4 H780.1 V2673.0 H782.0 V2668.6 H783.9 V2664.2 H785.8 V2659.8 H787.7 V2655.4 H789.5 V2651.0 H791.4 V2646.6 H793.9 V2642.2 H796.6 V2637.8 H799.4 V2633.4 H802.1 V2629.0 H804.9 V2624.6 H807.3 V2620.2 H809.8 V2615.8 H812.2 V2611.4 H814.7 V2607.0 H817.1 V2602.6 H819.2 V2598.2 H821.3 V2593.8 H823.3 V2589.4 H825.3 V2585.0 H827.4 V2580.6 H829.4 V2576.2 H831.5 V2571.8 H833.5 V2567.4 H835.5 V2563.0 H837.6 V2558.6 H839.6 V2554.2 H841.6 V2549.8 H843.6 V2545.4 H845.7 V2541.0 H847.7 V2536.6 H849.7 V2532.2 H851.8 V2527.8 H853.8 V2523.4 H855.8 V2519.0 H857.8 V2514.6 H859.9 V2510.2 H861.9 V2505.8 H863.9 V2501.4 H866.1 V2497.0 H868.3 V2492.6 H870.5 V2488.2 H872.7 V2483.8 H874.9 V2479.4 H877.4 V2475.0 H880.6 V2470.6 H883.7 V2466.2 H886.9 V2461.8 H889.7 V2457.4 H891.7 V2453.0 H893.7 V2448.6 H895.7 V2444.2 H897.7 V2439.8 H899.7 V2435.4 H901.7 V2431.0 H903.4 V2426.6 H905.2 V2422.2 H906.9 V2417.8 H908.6 V2413.4 H910.3 V2409.0 H912.3 V2404.6 H914.5 V2400.2 H916.7 V2395.8 H919.0 V2391.4 H921.2 V2387.0 H923.4 V2382.6 H925.6 V2378.2 H928.3 V2373.8 H931.3 V2369.4 H934.2 V2365.0 H937.1 V2360.6 H940.0 V2356.2 H942.6 V2351.8 H944.8 V2347.4 H947.0 V2343.0 H949.2 V2338.6 H951.4 V2334.2 H953.6 V2329.8 H955.8 V2325.4 H958.3 V2321.0 H961.3 V2316.6 H964.2 V2312.2 H967.2 V2307.8 H970.1 V2303.4 H972.7 V2299.0 H974.5 V2294.6 H976.4 V2290.2 H978.2 V2285.8 H980.0 V2281.4 H981.9 V2277.0 H983.7 V2272.6 H985.6 V2268.2 H987.8 V2263.8 H990.0 V2259.4 H992.2 V2255.0 H994.4 V2250.6 H996.6 V2246.2 H998.8 V2241.8 H1001.0 V2237.4 H1003.2 V2233.0 H1005.5 V2228.6 H1007.7 V2224.2 H1009.9 V2219.8 H1012.1 V2215.4 H1014.3 V2211.0 H1016.5 V2206.6 H1018.7 V2202.2 H1020.8 V2197.8 H1023.0 V2193.4 H1025.2 V2189.0 H1027.2 V2184.6 H1029.2 V2180.2 H1031.1 V2175.8 H1033.1 V2171.4 H1035.1 V2167.0 H1037.5 V2162.6 H1040.2 V2158.2 H1043.0 V2153.8 H1045.8 V2149.4 H1048.5 V2145.0 H1051.4 V2140.6 H1054.4 V2136.2 H1057.3 V2131.8 H1060.2 V2127.4 H1063.1 V2123.0 H1065.6 V2118.6 H1067.8 V2114.2 H1070.0 V2109.8 H1072.2 V2105.4 H1074.4 V2101.0 H1076.6 V2096.6 H1079.0 V2092.2 H1081.4 V2087.8 H1083.9 V2083.4 H1086.3 V2079.0 H1088.7 V2074.6 H1091.1 V2070.2 H1093.5 V2065.8 H1095.9 V2061.4 H1098.3 V2057.0 H1100.7 V2052.6 H1103.1 V2048.2 H1105.7 V2043.8 H1108.6 V2039.4 H1111.4 V2035.0 H1114.0 V2030.6 H1116.7 V2026.2 H1119.3 V2021.8 H1121.9 V2017.4 H1124.5 V2013.0 H1127.1 V2008.6 H1129.5 V2004.2 H1132.0 V1999.8 H1134.4 V1995.4 H1136.9 V1991.0 H1139.7 V1986.6 H1142.8 V1982.2 H1146.0 V1977.8 H1149.1 V1973.4 H1151.9 V1969.0 H1154.1 V1964.6 H1156.3 V1960.2 H1158.5 V1955.8 H1162.1 V1951.4 H1165.9 V1947.0 H1169.8 V1942.6 H1173.6 V1938.2 H1177.3 V1933.8 H1180.4 V1929.4 H1183.4 V1925.0 H1186.5 V1920.6 H1189.6 V1916.2 H1192.7 V1911.8 H1196.3 V1907.4 H1200.7 V1903.0 H1205.2 V1898.6 H1209.6 V1894.2 H1214.0 V1889.8 H1218.0 V1885.4 H1221.8 V1881.0 H1225.6 V1876.6 H1229.5 V1872.2 H1233.3 V1867.8 H1237.1 V1863.4 H1240.9 V1859.0 H1244.7 V1854.6 H1248.6 V1850.2 H1254.1 V1845.8 H1259.6 V1841.4 H1265.1 V1837.0 H1270.6 V1832.6 H1275.6 V1828.2 H1280.0 V1823.8 H1284.4 V1819.4 H1288.8 V1815.0 H1293.2 V1810.6 H1298.8 V1806.2 H1304.6 V1801.8 H1310.4 V1797.4 H1317.2 V1793.0 H1326.1 V1788.6 H1335.0 V1784.2 H1343.4 V1779.8 H1351.4 V1775.4 H1359.4 V1771.0 H1368.4 V1766.6 H1381.0 V1762.2 H1393.3 V1757.8 H1404.3 V1753.4 H1415.2 V1749.0 H1427.7 V1744.6 H1440.4 V1740.2 H1466.9 V1735.8 H1487.2 V1731.4 H1515.2 V1727.0 H1542.2 V1722.6 H1576.4 V1718.2 H1665.8 V1714.0" stroke="#FF0000" stroke-width="3.8" fill="none" stroke-linejoin="round"/>
<path d="M703.1 2876.9V2837.4 L717.6 2838.0 H720.3 V2833.6 H721.9 V2829.2 H722.7 V2824.8 H727.9 V2820.4 H733.2 V2816.0 H737.7 V2811.6 H739.4 V2807.2 H740.2 V2802.8 H741.7 V2798.4 H743.6 V2794.0 H745.5 V2789.6 H747.4 V2785.2 H749.2 V2780.8 H751.1 V2776.4 H753.0 V2772.0 H754.4 V2767.6 H755.4 V2763.2 H756.4 V2758.8 H757.5 V2754.4 H758.5 V2750.0 H759.5 V2745.6 H760.5 V2741.2 H761.6 V2736.8 H762.8 V2732.4 H764.0 V2728.0 H765.3 V2723.6 H766.5 V2719.2 H768.1 V2714.8 H769.7 V2710.4 H771.3 V2706.0 H772.9 V2701.6 H774.5 V2697.2 H776.1 V2692.8 H777.4 V2688.4 H778.3 V2684.0 H779.2 V2679.6 H780.2 V2675.2 H781.1 V2670.8 H782.0 V2666.4 H783.0 V2662.0 H783.9 V2657.6 H785.0 V2653.2 H786.4 V2648.8 H787.7 V2644.4 H789.0 V2640.0 H790.3 V2635.6 H791.6 V2631.2 H793.0 V2626.8 H794.3 V2622.4 H795.6 V2618.0 H797.0 V2613.6 H798.3 V2609.2 H799.6 V2604.8 H801.2 V2600.4 H802.9 V2596.0 H804.5 V2591.6 H806.1 V2587.2 H807.8 V2582.8 H809.4 V2578.4 H811.1 V2574.0 H812.8 V2569.6 H814.4 V2565.2 H815.8 V2560.8 H816.9 V2556.4 H818.0 V2552.0 H819.1 V2547.6 H820.2 V2543.2 H821.8 V2538.8 H823.4 V2534.4 H825.0 V2530.0 H826.7 V2525.6 H828.5 V2521.2 H830.7 V2516.8 H832.9 V2512.4 H835.1 V2508.0 H837.3 V2503.6 H839.1 V2499.2 H840.5 V2494.8 H842.0 V2490.4 H843.4 V2486.0 H844.9 V2481.6 H846.6 V2477.2 H848.6 V2472.8 H850.6 V2468.4 H852.6 V2464.0 H854.6 V2459.6 H856.6 V2455.2 H858.6 V2450.8 H861.1 V2446.4 H863.7 V2442.0 H866.2 V2437.6 H868.7 V2433.2 H871.3 V2428.8 H873.9 V2424.4 H876.5 V2420.0 H879.1 V2415.6 H881.7 V2411.2 H884.2 V2406.8 H887.0 V2402.4 H890.0 V2398.0 H892.9 V2393.6 H895.8 V2389.2 H898.7 V2384.8 H901.9 V2380.4 H905.4 V2376.0 H908.9 V2371.6 H912.4 V2367.2 H916.0 V2362.8 H919.5 V2358.4 H922.5 V2354.0 H925.3 V2349.6 H928.0 V2345.2 H930.7 V2340.8 H933.4 V2336.4 H936.1 V2332.0 H938.8 V2327.6 H941.6 V2323.2 H944.1 V2318.8 H946.6 V2314.4 H949.1 V2310.0 H951.6 V2305.6 H954.9 V2301.2 H958.2 V2296.8 H961.5 V2292.4 H964.8 V2288.0 H968.1 V2283.6 H971.4 V2279.2 H974.6 V2274.8 H977.9 V2270.4 H981.2 V2266.0 H983.8 V2261.6 H986.0 V2257.2 H988.2 V2252.8 H990.4 V2248.4 H992.7 V2244.0 H996.2 V2239.6 H999.7 V2235.2 H1003.3 V2230.8 H1006.8 V2226.4 H1010.3 V2222.0 H1014.3 V2217.6 H1019.6 V2213.2 H1024.8 V2208.8 H1029.2 V2204.4 H1031.8 V2200.0 H1034.5 V2195.6 H1037.1 V2191.2 H1039.8 V2186.8 H1042.4 V2182.4 H1045.2 V2178.0 H1048.1 V2173.6 H1051.1 V2169.2 H1054.0 V2164.8 H1056.9 V2160.4 H1060.1 V2156.0 H1063.9 V2151.6 H1067.7 V2147.2 H1071.4 V2142.8 H1075.1 V2138.4 H1078.4 V2134.0 H1081.7 V2129.6 H1084.9 V2125.2 H1088.2 V2120.8 H1090.7 V2116.4 H1092.7 V2112.0 H1094.6 V2107.6 H1096.6 V2103.2 H1098.5 V2098.8 H1100.8 V2094.4 H1103.4 V2090.0 H1106.0 V2085.6 H1108.7 V2081.2 H1111.3 V2076.8 H1113.9 V2072.4 H1117.1 V2068.0 H1120.9 V2063.6 H1124.7 V2059.2 H1128.5 V2054.8 H1132.1 V2050.4 H1135.5 V2046.0 H1138.9 V2041.6 H1142.4 V2037.2 H1145.8 V2032.8 H1149.2 V2028.4 H1152.6 V2024.0 H1156.0 V2019.6 H1159.5 V2015.2 H1162.9 V2010.8 H1166.3 V2006.4 H1169.8 V2002.0 H1173.4 V1997.6 H1176.9 V1993.2 H1180.4 V1988.8 H1183.9 V1984.4 H1187.5 V1980.0 H1191.4 V1975.6 H1195.3 V1971.2 H1199.2 V1966.8 H1203.1 V1962.4 H1207.0 V1958.0 H1212.1 V1953.6 H1217.3 V1949.2 H1222.4 V1944.8 H1226.6 V1940.4 H1229.7 V1936.0 H1232.8 V1931.6 H1236.0 V1927.2 H1239.4 V1922.8 H1243.2 V1918.4 H1247.0 V1914.0 H1250.8 V1909.6 H1254.8 V1905.2 H1259.2 V1900.8 H1263.5 V1896.4 H1267.9 V1892.0 H1272.3 V1887.6 H1277.3 V1883.2 H1282.6 V1878.8 H1287.9 V1874.4 H1292.0 V1870.0 H1295.7 V1865.6 H1299.5 V1861.2 H1303.3 V1856.8 H1308.9 V1852.4 H1315.1 V1848.0 H1321.3 V1843.6 H1325.9 V1839.2 H1330.3 V1834.8 H1334.7 V1830.4 H1339.1 V1826.0 H1347.0 V1821.6 H1355.7 V1817.2 H1364.5 V1812.8 H1370.2 V1808.4 H1375.5 V1804.0 H1380.8 V1799.6 H1389.6 V1795.2 H1398.3 V1790.8 H1407.1 V1786.4 H1415.9 V1782.0 H1424.6 V1777.6 H1433.4 V1773.2 H1442.3 V1768.8 H1451.2 V1764.4 H1460.3 V1760.0 H1470.0 V1755.6 H1479.8 V1751.2 H1493.5 V1746.8 H1511.5 V1742.4 H1535.1 V1738.0 H1557.2 V1733.6 H1595.1 V1729.2 H1609.8 V1724.8 H1640.4 V1720.4 H1761.8 V1717.2" stroke="#000" stroke-width="3.8" fill="none" stroke-linejoin="round"/>
<text textLength="93.1" lengthAdjust="spacingAndGlyphs" transform="translate(459.5 1711.2) rotate(-90)" x="0" y="0" text-anchor="middle" font-family="'Liberation Sans', Arial, sans-serif" font-size="67" fill="#111">1.0</text>
<text textLength="93.1" lengthAdjust="spacingAndGlyphs" transform="translate(459.5 1943) rotate(-90)" x="0" y="0" text-anchor="middle" font-family="'Liberation Sans', Arial, sans-serif" font-size="67" fill="#111">0.8</text>
<text textLength="93.1" lengthAdjust="spacingAndGlyphs" transform="translate(459.5 2175.3) rotate(-90)" x="0" y="0" text-anchor="middle" font-family="'Liberation Sans', Arial, sans-serif" font-size="67" fill="#111">0.6</text>
<text textLength="93.1" lengthAdjust="spacingAndGlyphs" transform="translate(459.5 2407.8) rotate(-90)" x="0" y="0" text-anchor="middle" font-family="'Liberation Sans', Arial, sans-serif" font-size="67" fill="#111">0.4</text>
<text textLength="93.1" lengthAdjust="spacingAndGlyphs" transform="translate(459.5 2640.6) rotate(-90)" x="0" y="0" text-anchor="middle" font-family="'Liberation Sans', Arial, sans-serif" font-size="67" fill="#111">0.2</text>
<text textLength="93.1" lengthAdjust="spacingAndGlyphs" transform="translate(459.5 2873.9) rotate(-90)" x="0" y="0" text-anchor="middle" font-family="'Liberation Sans', Arial, sans-serif" font-size="67" fill="#111">0.0</text>
<text textLength="39.5" lengthAdjust="spacingAndGlyphs" transform="translate(699.1 3073) scale(0.91 1)" text-anchor="middle" font-family="'Liberation Sans', Arial, sans-serif" font-size="71" fill="#111">0</text>
<text textLength="39.5" lengthAdjust="spacingAndGlyphs" transform="translate(1160.4 3073) scale(0.91 1)" text-anchor="middle" font-family="'Liberation Sans', Arial, sans-serif" font-size="71" fill="#111">5</text>
<text textLength="79.0" lengthAdjust="spacingAndGlyphs" transform="translate(1625.5 3073) scale(0.91 1)" text-anchor="middle" font-family="'Liberation Sans', Arial, sans-serif" font-size="71" fill="#111">10</text>
<text textLength="79.0" lengthAdjust="spacingAndGlyphs" transform="translate(2083.1 3073) scale(0.91 1)" text-anchor="middle" font-family="'Liberation Sans', Arial, sans-serif" font-size="71" fill="#111">15</text>
<text textLength="725.6" lengthAdjust="spacingAndGlyphs" transform="translate(310.6 2288.3) rotate(-90)" x="0" y="0" text-anchor="middle" font-family="'Liberation Sans', Arial, sans-serif" font-size="68" fill="#111">Cummulative probability</text>
<text x="1091" y="3241" font-family="'Liberation Sans', Arial, sans-serif" font-size="72" textLength="463" lengthAdjust="spacingAndGlyphs" fill="#111" stroke="#111" stroke-width="0.6">Age of LTR(Mya)</text>
<text x="37" y="1694.5" font-family="Carlito, 'Liberation Sans', sans-serif" font-size="72" textLength="85" lengthAdjust="spacingAndGlyphs" fill="#000">(b)</text>
<text x="1151" y="2374.6" font-family="'Liberation Serif', serif" font-size="64" textLength="693" lengthAdjust="spacingAndGlyphs" fill="#111" stroke="#111" stroke-width="0.9">Kolmogorov-Smirnov test:</text>
<text x="1153" y="2448.8" font-family="Carlito, 'Liberation Sans', sans-serif" font-size="61" textLength="242" lengthAdjust="spacingAndGlyphs" fill="#111" stroke="#111" stroke-width="0.5"><tspan font-style="italic">D</tspan>=0.0553</text>
<text x="1153" y="2523" font-family="Carlito, 'Liberation Sans', sans-serif" font-size="59" textLength="450" lengthAdjust="spacingAndGlyphs" fill="#111" stroke="#111" stroke-width="0.5">P-value=1.506×10</text>
<text x="1605" y="2503.5" font-family="Carlito, 'Liberation Sans', sans-serif" font-size="32" textLength="38" lengthAdjust="spacingAndGlyphs" fill="#111" stroke="#111" stroke-width="0.4">-6</text>
</svg></body></html>
